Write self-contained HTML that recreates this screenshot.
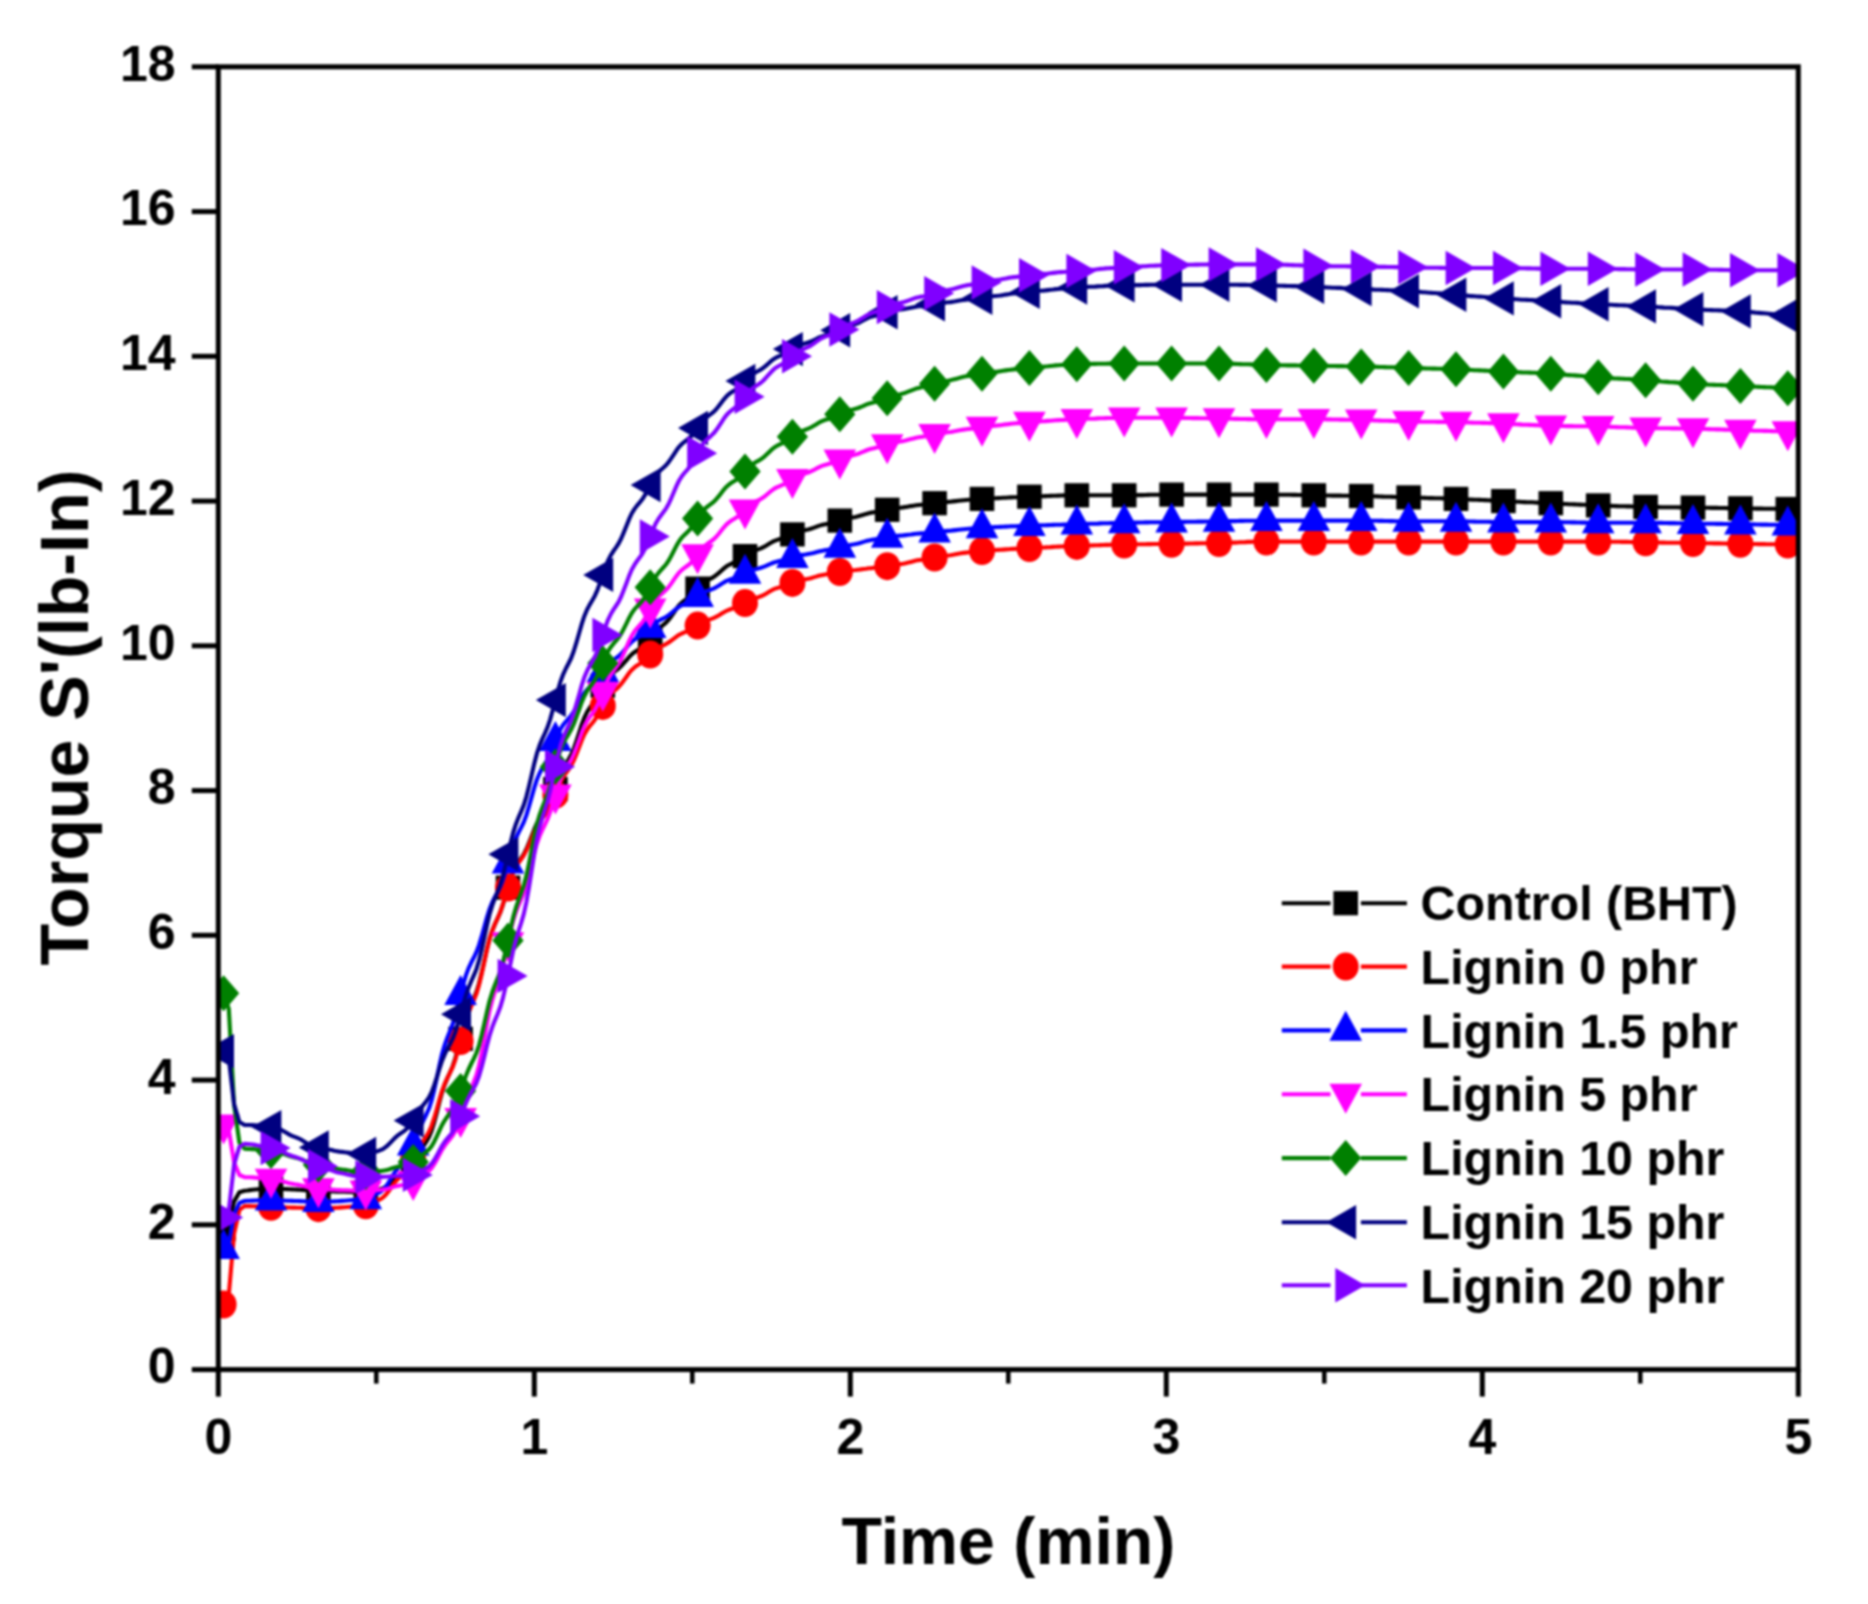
<!DOCTYPE html>
<html lang="en"><head><meta charset="utf-8"><title>Torque S' vs Time</title>
<style>
html,body{margin:0;padding:0;background:#fff;}
svg{display:block;filter:blur(0.85px);}
text{font-family:"Liberation Sans",Arial,Helvetica,sans-serif;font-weight:bold;fill:#000;}
.tk{font-size:50px;}
.lg{font-size:48.4px;}
</style></head><body>
<svg width="1868" height="1604" viewBox="0 0 1868 1604">
<rect width="1868" height="1604" fill="#fff"/>
<defs><clipPath id="plot"><rect x="218.3" y="66.8" width="1580.0" height="1302.8"/></clipPath></defs>
<g clip-path="url(#plot)">
<g><polyline points="223.6,1228.5 228.8,1224.7 234.1,1201.4 239.4,1192.3 244.6,1190.8 247.3,1190.5 249.9,1190.1 252.5,1189.7 255.2,1189.5 257.8,1189.3 260.4,1189.1 263.1,1189.0 265.7,1188.8 268.3,1188.7 271.0,1188.7 273.6,1188.7 276.2,1188.7 278.9,1188.7 281.5,1188.8 284.1,1189.0 286.8,1189.1 289.4,1189.3 292.0,1189.4 294.7,1189.5 297.3,1189.6 299.9,1189.8 302.6,1189.9 305.2,1190.1 307.8,1190.3 310.5,1190.5 313.1,1190.7 315.7,1190.8 318.4,1190.8 321.0,1190.9 323.6,1191.0 326.3,1191.1 328.9,1191.2 331.5,1191.4 334.2,1191.5 336.8,1191.6 339.4,1191.7 342.1,1191.8 344.7,1191.8 347.3,1191.9 350.0,1192.0 352.6,1192.1 355.2,1192.2 357.9,1192.2 360.5,1192.3 363.1,1192.3 365.8,1192.3 368.4,1192.1 371.0,1191.6 373.7,1190.9 376.3,1190.3 378.9,1189.6 381.6,1188.8 384.2,1187.6 386.8,1185.9 389.5,1183.7 392.1,1181.3 394.7,1178.9 397.4,1176.9 400.0,1175.2 402.6,1173.7 405.3,1171.9 407.9,1169.6 410.5,1166.7 413.2,1163.3 415.8,1159.2 418.4,1154.4 421.1,1149.8 423.7,1145.6 426.3,1141.7 429.0,1137.0 431.6,1130.7 434.2,1122.3 436.9,1112.3 439.5,1101.8 442.1,1092.3 444.8,1084.4 447.4,1078.1 450.0,1072.5 452.7,1066.2 455.3,1058.4 457.9,1049.0 460.6,1038.8 463.2,1028.6 465.8,1019.1 468.5,1011.0 471.1,1004.5 473.7,998.6 476.4,992.0 479.0,983.5 481.6,972.9 484.3,961.0 486.9,949.2 489.5,938.9 492.2,930.7 494.8,924.4 497.4,918.8 500.1,912.7 502.7,905.3 505.3,896.6 508.0,887.6 510.6,879.1 513.2,871.9 515.9,866.3 518.5,862.0 521.1,858.3 523.8,854.1 526.4,849.0 529.0,842.8 531.7,836.1 534.3,829.4 536.9,823.4 539.6,818.7 542.2,814.8 544.8,811.4 547.5,807.5 550.1,802.6 552.7,796.3 555.4,789.1 558.0,781.6 560.6,774.6 563.3,768.7 565.9,763.9 568.5,759.6 571.2,754.8 573.8,748.7 576.4,741.2 579.1,732.9 581.7,724.7 584.3,717.6 587.0,712.2 589.6,708.0 592.2,704.4 594.9,700.5 597.5,695.9 600.1,690.7 602.8,685.6 605.4,681.1 608.0,677.4 610.7,674.5 613.3,672.4 615.9,670.5 618.6,668.5 621.2,666.1 623.8,663.2 626.5,660.1 629.1,657.0 631.7,654.4 634.4,652.2 637.0,650.5 639.6,648.9 642.3,647.2 644.9,644.9 647.5,642.0 650.2,638.6 652.8,635.0 655.4,631.7 658.1,629.0 660.7,626.8 663.3,624.8 666.0,622.6 668.6,619.8 671.2,616.4 673.9,612.5 676.5,608.7 679.1,605.3 681.8,602.7 684.4,600.6 687.0,598.8 689.7,596.8 692.3,594.4 694.9,591.6 697.6,588.6 700.2,585.8 702.8,583.4 705.5,581.4 708.1,579.9 710.7,578.6 713.4,577.1 716.0,575.3 718.6,573.1 721.3,570.7 723.9,568.4 726.5,566.3 729.2,564.8 731.8,563.5 734.4,562.4 737.1,561.2 739.7,559.8 742.3,558.0 745.0,556.1 747.6,554.2 750.2,552.6 752.9,551.3 755.5,550.3 758.1,549.4 760.8,548.4 763.4,547.1 766.0,545.7 768.7,544.1 771.3,542.5 773.9,541.1 776.6,540.1 779.2,539.3 781.8,538.5 784.5,537.7 787.1,536.8 789.7,535.6 792.4,534.4 795.0,533.2 797.6,532.1 800.3,531.3 802.9,530.7 805.5,530.1 808.2,529.5 810.8,528.8 813.4,527.9 816.1,526.9 818.7,525.9 821.3,525.1 824.0,524.4 826.6,523.9 829.2,523.4 831.9,522.9 834.5,522.3 837.1,521.5 839.8,520.6 842.4,519.7 845.0,518.9 847.7,518.3 850.3,517.8 852.9,517.4 855.6,516.9 858.2,516.3 860.8,515.5 863.5,514.7 866.1,513.9 868.7,513.2 871.4,512.6 874.0,512.2 876.6,511.8 879.3,511.4 881.9,510.9 884.5,510.4 887.2,509.8 889.8,509.2 892.4,508.7 895.1,508.3 897.7,508.0 900.3,507.7 903.0,507.4 905.6,507.0 908.2,506.6 910.9,506.1 913.5,505.7 916.1,505.3 918.8,505.0 921.4,504.7 924.0,504.5 926.7,504.3 929.3,504.0 931.9,503.6 934.6,503.2 937.2,502.9 939.8,502.5 942.5,502.3 945.1,502.1 947.7,501.9 950.4,501.7 953.0,501.4 955.6,501.1 958.3,500.8 960.9,500.5 963.5,500.2 966.2,500.0 968.8,499.8 971.4,499.7 974.1,499.5 976.7,499.3 979.3,499.1 982.0,498.9 984.6,498.7 987.2,498.5 989.9,498.4 992.5,498.3 995.1,498.2 997.8,498.1 1000.4,498.0 1003.0,497.8 1005.7,497.7 1008.3,497.5 1010.9,497.4 1013.6,497.3 1016.2,497.2 1018.8,497.1 1021.5,497.1 1024.1,497.0 1026.7,496.9 1029.4,496.7 1032.0,496.6 1034.6,496.5 1037.3,496.4 1039.9,496.3 1042.5,496.2 1045.2,496.1 1047.8,496.0 1050.4,495.9 1053.1,495.8 1055.7,495.7 1058.3,495.6 1061.0,495.5 1063.6,495.4 1066.2,495.4 1068.9,495.4 1071.5,495.3 1074.1,495.3 1076.8,495.3 1079.4,495.3 1082.0,495.3 1084.7,495.3 1087.3,495.3 1089.9,495.3 1092.6,495.3 1095.2,495.3 1097.8,495.3 1100.5,495.3 1103.1,495.3 1105.7,495.3 1108.4,495.3 1111.0,495.3 1113.6,495.3 1116.3,495.3 1118.9,495.3 1121.5,495.3 1124.2,495.3 1126.8,495.3 1129.4,495.2 1132.1,495.2 1134.7,495.2 1137.3,495.1 1140.0,495.1 1142.6,495.1 1145.2,495.0 1147.9,494.9 1150.5,494.8 1153.1,494.8 1155.8,494.7 1158.4,494.7 1161.0,494.7 1163.7,494.6 1166.3,494.6 1168.9,494.6 1171.6,494.6 1174.2,494.6 1176.8,494.6 1179.5,494.6 1182.1,494.6 1184.7,494.6 1187.4,494.6 1190.0,494.6 1192.6,494.6 1195.3,494.6 1197.9,494.6 1200.5,494.6 1203.2,494.6 1205.8,494.6 1208.4,494.6 1211.1,494.6 1213.7,494.6 1216.3,494.6 1219.0,494.6 1221.6,494.6 1224.2,494.6 1226.9,494.6 1229.5,494.6 1232.1,494.6 1234.8,494.6 1237.4,494.6 1240.0,494.6 1242.7,494.6 1245.3,494.6 1247.9,494.6 1250.6,494.6 1253.2,494.6 1255.8,494.6 1258.5,494.6 1261.1,494.6 1263.7,494.6 1266.4,494.6 1269.0,494.6 1271.6,494.6 1274.3,494.6 1276.9,494.6 1279.5,494.7 1282.2,494.7 1284.8,494.7 1287.4,494.8 1290.1,494.8 1292.7,494.9 1295.3,494.9 1298.0,495.0 1300.6,495.0 1303.2,495.1 1305.9,495.2 1308.5,495.2 1311.1,495.2 1313.8,495.3 1316.4,495.3 1319.0,495.3 1321.7,495.4 1324.3,495.4 1326.9,495.5 1329.6,495.5 1332.2,495.6 1334.8,495.6 1337.5,495.6 1340.1,495.6 1342.7,495.7 1345.4,495.7 1348.0,495.8 1350.6,495.8 1353.3,495.9 1355.9,495.9 1358.5,496.0 1361.2,496.0 1363.8,496.0 1366.4,496.1 1369.1,496.2 1371.7,496.2 1374.3,496.3 1377.0,496.4 1379.6,496.5 1382.2,496.6 1384.9,496.7 1387.5,496.7 1390.1,496.8 1392.8,496.9 1395.4,497.0 1398.0,497.1 1400.7,497.2 1403.3,497.3 1405.9,497.4 1408.6,497.4 1411.2,497.5 1413.8,497.6 1416.5,497.7 1419.1,497.7 1421.7,497.8 1424.4,497.9 1427.0,498.0 1429.6,498.1 1432.3,498.1 1434.9,498.2 1437.5,498.3 1440.2,498.3 1442.8,498.4 1445.4,498.5 1448.1,498.7 1450.7,498.8 1453.3,498.8 1456.0,498.9 1458.6,499.0 1461.2,499.0 1463.9,499.2 1466.5,499.3 1469.1,499.5 1471.8,499.6 1474.4,499.7 1477.0,499.8 1479.7,499.9 1482.3,500.0 1484.9,500.1 1487.6,500.3 1490.2,500.4 1492.8,500.6 1495.5,500.7 1498.1,500.9 1500.7,501.0 1503.4,501.1 1506.0,501.2 1508.6,501.3 1511.3,501.4 1513.9,501.5 1516.5,501.7 1519.2,501.8 1521.8,502.0 1524.4,502.1 1527.1,502.2 1529.7,502.2 1532.3,502.3 1535.0,502.5 1537.6,502.6 1540.2,502.8 1542.9,502.9 1545.5,503.1 1548.1,503.2 1550.8,503.2 1553.4,503.3 1556.0,503.4 1558.7,503.6 1561.3,503.7 1563.9,503.9 1566.6,504.0 1569.2,504.2 1571.8,504.3 1574.5,504.4 1577.1,504.5 1579.7,504.6 1582.4,504.7 1585.0,504.8 1587.6,505.0 1590.3,505.1 1592.9,505.3 1595.5,505.3 1598.2,505.4 1600.8,505.5 1603.4,505.6 1606.1,505.7 1608.7,505.8 1611.3,505.9 1614.0,506.0 1616.6,506.1 1619.2,506.2 1621.9,506.2 1624.5,506.3 1627.1,506.4 1629.8,506.4 1632.4,506.5 1635.0,506.6 1637.7,506.7 1640.3,506.8 1642.9,506.8 1645.6,506.9 1648.2,506.9 1650.8,506.9 1653.5,507.0 1656.1,507.0 1658.7,507.1 1661.4,507.2 1664.0,507.2 1666.6,507.2 1669.3,507.2 1671.9,507.3 1674.5,507.3 1677.2,507.3 1679.8,507.4 1682.4,507.4 1685.1,507.5 1687.7,507.5 1690.3,507.6 1693.0,507.6 1695.6,507.6 1698.2,507.6 1700.9,507.7 1703.5,507.7 1706.1,507.8 1708.8,507.8 1711.4,507.9 1714.0,507.9 1716.7,507.9 1719.3,508.0 1721.9,508.0 1724.6,508.0 1727.2,508.1 1729.8,508.2 1732.5,508.2 1735.1,508.2 1737.7,508.3 1740.4,508.3 1743.0,508.3 1745.6,508.4 1748.3,508.4 1750.9,508.5 1753.5,508.5 1756.2,508.6 1758.8,508.6 1761.4,508.6 1764.1,508.7 1766.7,508.7 1769.3,508.7 1772.0,508.8 1774.6,508.8 1777.2,508.9 1779.9,508.9 1782.5,509.0 1785.1,509.0 1787.8,509.0" fill="none" stroke="#000000" stroke-width="4.1" stroke-linejoin="round"/>
<rect x="211.3" y="1216.4" width="24.6" height="24.2" fill="#000000"/>
<rect x="258.7" y="1176.6" width="24.6" height="24.2" fill="#000000"/>
<rect x="306.1" y="1178.7" width="24.6" height="24.2" fill="#000000"/>
<rect x="353.5" y="1180.2" width="24.6" height="24.2" fill="#000000"/>
<rect x="400.9" y="1151.2" width="24.6" height="24.2" fill="#000000"/>
<rect x="448.3" y="1026.7" width="24.6" height="24.2" fill="#000000"/>
<rect x="495.7" y="875.5" width="24.6" height="24.2" fill="#000000"/>
<rect x="543.1" y="777.0" width="24.6" height="24.2" fill="#000000"/>
<rect x="590.5" y="673.5" width="24.6" height="24.2" fill="#000000"/>
<rect x="637.9" y="626.5" width="24.6" height="24.2" fill="#000000"/>
<rect x="685.3" y="576.5" width="24.6" height="24.2" fill="#000000"/>
<rect x="732.7" y="544.0" width="24.6" height="24.2" fill="#000000"/>
<rect x="780.1" y="522.3" width="24.6" height="24.2" fill="#000000"/>
<rect x="827.5" y="508.5" width="24.6" height="24.2" fill="#000000"/>
<rect x="874.9" y="497.7" width="24.6" height="24.2" fill="#000000"/>
<rect x="922.3" y="491.1" width="24.6" height="24.2" fill="#000000"/>
<rect x="969.7" y="486.8" width="24.6" height="24.2" fill="#000000"/>
<rect x="1017.1" y="484.6" width="24.6" height="24.2" fill="#000000"/>
<rect x="1064.5" y="483.2" width="24.6" height="24.2" fill="#000000"/>
<rect x="1111.9" y="483.2" width="24.6" height="24.2" fill="#000000"/>
<rect x="1159.3" y="482.5" width="24.6" height="24.2" fill="#000000"/>
<rect x="1206.7" y="482.5" width="24.6" height="24.2" fill="#000000"/>
<rect x="1254.1" y="482.5" width="24.6" height="24.2" fill="#000000"/>
<rect x="1301.5" y="483.2" width="24.6" height="24.2" fill="#000000"/>
<rect x="1348.9" y="483.9" width="24.6" height="24.2" fill="#000000"/>
<rect x="1396.3" y="485.3" width="24.6" height="24.2" fill="#000000"/>
<rect x="1443.7" y="486.8" width="24.6" height="24.2" fill="#000000"/>
<rect x="1491.1" y="489.0" width="24.6" height="24.2" fill="#000000"/>
<rect x="1538.5" y="491.1" width="24.6" height="24.2" fill="#000000"/>
<rect x="1585.9" y="493.3" width="24.6" height="24.2" fill="#000000"/>
<rect x="1633.3" y="494.8" width="24.6" height="24.2" fill="#000000"/>
<rect x="1680.7" y="495.5" width="24.6" height="24.2" fill="#000000"/>
<rect x="1728.1" y="496.2" width="24.6" height="24.2" fill="#000000"/>
<rect x="1775.5" y="496.9" width="24.6" height="24.2" fill="#000000"/>
</g>
<g><polyline points="223.6,1304.5 228.8,1294.6 234.1,1233.6 239.4,1210.0 244.6,1206.0 247.3,1206.1 249.9,1206.1 252.5,1206.2 255.2,1206.3 257.8,1206.4 260.4,1206.5 263.1,1206.6 265.7,1206.6 268.3,1206.7 271.0,1206.8 273.6,1206.8 276.2,1206.9 278.9,1207.0 281.5,1207.1 284.1,1207.2 286.8,1207.4 289.4,1207.5 292.0,1207.6 294.7,1207.6 297.3,1207.7 299.9,1207.8 302.6,1207.9 305.2,1208.0 307.8,1208.1 310.5,1208.1 313.1,1208.2 315.7,1208.2 318.4,1208.2 321.0,1208.2 323.6,1208.1 326.3,1208.1 328.9,1208.0 331.5,1208.0 334.2,1207.9 336.8,1207.8 339.4,1207.6 342.1,1207.4 344.7,1207.2 347.3,1207.0 350.0,1206.8 352.6,1206.6 355.2,1206.4 357.9,1206.3 360.5,1206.0 363.1,1205.7 365.8,1205.3 368.4,1204.6 371.0,1203.5 373.7,1202.3 376.3,1201.1 378.9,1199.9 381.6,1198.5 384.2,1196.4 386.8,1193.6 389.5,1190.1 392.1,1186.2 394.7,1182.6 397.4,1179.5 400.0,1177.0 402.6,1174.7 405.3,1172.1 407.9,1168.7 410.5,1164.5 413.2,1159.7 415.8,1154.5 418.4,1149.1 421.1,1144.2 423.7,1140.1 426.3,1136.2 429.0,1131.7 431.6,1125.7 434.2,1118.0 436.9,1108.9 439.5,1099.4 442.1,1090.7 444.8,1083.6 447.4,1077.9 450.0,1072.7 452.7,1067.0 455.3,1059.7 457.9,1050.8 460.6,1041.0 463.2,1030.9 465.8,1021.4 468.5,1013.2 471.1,1006.6 473.7,1000.6 476.4,993.8 479.0,985.1 481.6,974.2 484.3,962.0 486.9,949.9 489.5,939.2 492.2,930.9 494.8,924.4 497.4,918.7 500.1,912.5 502.7,905.0 505.3,896.4 508.0,887.6 510.6,879.4 513.2,872.4 515.9,867.1 518.5,862.9 521.1,859.3 523.8,855.3 526.4,850.4 529.0,844.6 531.7,838.2 534.3,831.9 536.9,826.3 539.6,821.9 542.2,818.3 544.8,815.2 547.5,811.6 550.1,807.1 552.7,801.4 555.4,794.9 558.0,788.2 560.6,782.1 563.3,777.1 565.9,773.1 568.5,769.5 571.2,765.5 573.8,760.4 576.4,754.1 579.1,747.2 581.7,740.4 584.3,734.5 587.0,729.9 589.6,726.3 592.2,723.2 594.9,719.7 597.5,715.6 600.1,710.9 602.8,705.9 605.4,701.2 608.0,697.2 610.7,694.0 613.3,691.5 615.9,689.4 618.6,687.0 621.2,684.0 623.8,680.5 626.5,676.7 629.1,673.0 631.7,669.9 634.4,667.4 637.0,665.5 639.6,663.9 642.3,662.1 644.9,659.9 647.5,657.3 650.2,654.5 652.8,651.9 655.4,649.6 658.1,647.9 660.7,646.6 663.3,645.4 666.0,644.1 668.6,642.5 671.2,640.6 673.9,638.6 676.5,636.6 679.1,634.8 681.8,633.5 684.4,632.4 687.0,631.4 689.7,630.4 692.3,629.0 694.9,627.4 697.6,625.6 700.2,623.7 702.8,622.2 705.5,620.9 708.1,619.9 710.7,619.1 713.4,618.1 716.0,616.9 718.6,615.5 721.3,613.8 723.9,612.2 726.5,610.8 729.2,609.7 731.8,608.8 734.4,608.0 737.1,607.2 739.7,606.0 742.3,604.7 745.0,603.1 747.6,601.6 750.2,600.1 752.9,599.0 755.5,598.0 758.1,597.2 760.8,596.3 763.4,595.1 766.0,593.7 768.7,592.1 771.3,590.5 773.9,589.2 776.6,588.2 779.2,587.4 781.8,586.7 784.5,585.9 787.1,585.0 789.7,583.9 792.4,582.9 795.0,581.8 797.6,581.0 800.3,580.3 802.9,579.8 805.5,579.3 808.2,578.8 810.8,578.2 813.4,577.4 816.1,576.6 818.7,575.8 821.3,575.2 824.0,574.7 826.6,574.3 829.2,573.9 831.9,573.5 834.5,573.1 837.1,572.6 839.8,572.0 842.4,571.5 845.0,571.0 847.7,570.7 850.3,570.5 852.9,570.2 855.6,570.0 858.2,569.7 860.8,569.4 863.5,569.0 866.1,568.7 868.7,568.3 871.4,568.1 874.0,567.8 876.6,567.6 879.3,567.4 881.9,567.1 884.5,566.7 887.2,566.2 889.8,565.7 892.4,565.2 895.1,564.7 897.7,564.4 900.3,564.1 903.0,563.7 905.6,563.2 908.2,562.6 910.9,561.9 913.5,561.2 916.1,560.6 918.8,560.1 921.4,559.8 924.0,559.4 926.7,559.1 929.3,558.6 931.9,558.1 934.6,557.5 937.2,557.0 939.8,556.5 942.5,556.1 945.1,555.8 947.7,555.5 950.4,555.2 953.0,554.8 955.6,554.3 958.3,553.8 960.9,553.3 963.5,552.9 966.2,552.6 968.8,552.3 971.4,552.1 974.1,551.9 976.7,551.6 979.3,551.3 982.0,551.0 984.6,550.7 987.2,550.5 989.9,550.3 992.5,550.2 995.1,550.0 997.8,549.9 1000.4,549.8 1003.0,549.6 1005.7,549.4 1008.3,549.2 1010.9,549.0 1013.6,548.9 1016.2,548.8 1018.8,548.7 1021.5,548.6 1024.1,548.4 1026.7,548.3 1029.4,548.1 1032.0,547.9 1034.6,547.8 1037.3,547.6 1039.9,547.5 1042.5,547.5 1045.2,547.4 1047.8,547.2 1050.4,547.1 1053.1,546.9 1055.7,546.8 1058.3,546.6 1061.0,546.5 1063.6,546.4 1066.2,546.4 1068.9,546.3 1071.5,546.2 1074.1,546.1 1076.8,545.9 1079.4,545.8 1082.0,545.7 1084.7,545.6 1087.3,545.5 1089.9,545.5 1092.6,545.4 1095.2,545.3 1097.8,545.2 1100.5,545.1 1103.1,545.0 1105.7,544.9 1108.4,544.9 1111.0,544.8 1113.6,544.8 1116.3,544.7 1118.9,544.6 1121.5,544.6 1124.2,544.5 1126.8,544.4 1129.4,544.4 1132.1,544.3 1134.7,544.3 1137.3,544.3 1140.0,544.2 1142.6,544.2 1145.2,544.2 1147.9,544.1 1150.5,544.1 1153.1,544.0 1155.8,544.0 1158.4,544.0 1161.0,543.9 1163.7,543.9 1166.3,543.9 1168.9,543.8 1171.6,543.8 1174.2,543.7 1176.8,543.7 1179.5,543.6 1182.1,543.6 1184.7,543.6 1187.4,543.6 1190.0,543.5 1192.6,543.5 1195.3,543.4 1197.9,543.4 1200.5,543.3 1203.2,543.3 1205.8,543.3 1208.4,543.2 1211.1,543.2 1213.7,543.2 1216.3,543.1 1219.0,543.0 1221.6,543.0 1224.2,542.9 1226.9,542.8 1229.5,542.7 1232.1,542.6 1234.8,542.6 1237.4,542.5 1240.0,542.3 1242.7,542.2 1245.3,542.1 1247.9,541.9 1250.6,541.9 1253.2,541.8 1255.8,541.8 1258.5,541.7 1261.1,541.7 1263.7,541.6 1266.4,541.6 1269.0,541.6 1271.6,541.6 1274.3,541.6 1276.9,541.6 1279.5,541.6 1282.2,541.6 1284.8,541.6 1287.4,541.6 1290.1,541.6 1292.7,541.6 1295.3,541.6 1298.0,541.6 1300.6,541.6 1303.2,541.6 1305.9,541.6 1308.5,541.6 1311.1,541.6 1313.8,541.6 1316.4,541.6 1319.0,541.6 1321.7,541.6 1324.3,541.6 1326.9,541.6 1329.6,541.6 1332.2,541.6 1334.8,541.6 1337.5,541.6 1340.1,541.6 1342.7,541.6 1345.4,541.6 1348.0,541.6 1350.6,541.6 1353.3,541.6 1355.9,541.6 1358.5,541.6 1361.2,541.6 1363.8,541.6 1366.4,541.6 1369.1,541.6 1371.7,541.6 1374.3,541.6 1377.0,541.6 1379.6,541.6 1382.2,541.6 1384.9,541.6 1387.5,541.6 1390.1,541.6 1392.8,541.6 1395.4,541.6 1398.0,541.6 1400.7,541.6 1403.3,541.6 1405.9,541.6 1408.6,541.6 1411.2,541.6 1413.8,541.6 1416.5,541.6 1419.1,541.6 1421.7,541.6 1424.4,541.6 1427.0,541.6 1429.6,541.6 1432.3,541.6 1434.9,541.6 1437.5,541.6 1440.2,541.6 1442.8,541.6 1445.4,541.6 1448.1,541.6 1450.7,541.6 1453.3,541.6 1456.0,541.6 1458.6,541.6 1461.2,541.6 1463.9,541.6 1466.5,541.6 1469.1,541.6 1471.8,541.6 1474.4,541.6 1477.0,541.6 1479.7,541.6 1482.3,541.6 1484.9,541.6 1487.6,541.6 1490.2,541.6 1492.8,541.6 1495.5,541.6 1498.1,541.6 1500.7,541.6 1503.4,541.6 1506.0,541.6 1508.6,541.6 1511.3,541.6 1513.9,541.6 1516.5,541.6 1519.2,541.6 1521.8,541.6 1524.4,541.6 1527.1,541.6 1529.7,541.6 1532.3,541.6 1535.0,541.6 1537.6,541.6 1540.2,541.6 1542.9,541.6 1545.5,541.6 1548.1,541.6 1550.8,541.6 1553.4,541.6 1556.0,541.6 1558.7,541.6 1561.3,541.6 1563.9,541.6 1566.6,541.6 1569.2,541.6 1571.8,541.6 1574.5,541.6 1577.1,541.6 1579.7,541.6 1582.4,541.6 1585.0,541.6 1587.6,541.6 1590.3,541.6 1592.9,541.6 1595.5,541.6 1598.2,541.6 1600.8,541.6 1603.4,541.6 1606.1,541.6 1608.7,541.7 1611.3,541.7 1614.0,541.7 1616.6,541.8 1619.2,541.8 1621.9,541.9 1624.5,541.9 1627.1,541.9 1629.8,542.0 1632.4,542.1 1635.0,542.1 1637.7,542.2 1640.3,542.3 1642.9,542.3 1645.6,542.3 1648.2,542.3 1650.8,542.4 1653.5,542.4 1656.1,542.5 1658.7,542.5 1661.4,542.6 1664.0,542.6 1666.6,542.7 1669.3,542.7 1671.9,542.7 1674.5,542.7 1677.2,542.8 1679.8,542.8 1682.4,542.9 1685.1,542.9 1687.7,543.0 1690.3,543.0 1693.0,543.0 1695.6,543.1 1698.2,543.1 1700.9,543.1 1703.5,543.2 1706.1,543.3 1708.8,543.3 1711.4,543.3 1714.0,543.4 1716.7,543.4 1719.3,543.4 1721.9,543.5 1724.6,543.5 1727.2,543.6 1729.8,543.6 1732.5,543.7 1735.1,543.7 1737.7,543.7 1740.4,543.8 1743.0,543.8 1745.6,543.8 1748.3,543.9 1750.9,543.9 1753.5,544.0 1756.2,544.0 1758.8,544.1 1761.4,544.1 1764.1,544.1 1766.7,544.2 1769.3,544.2 1772.0,544.2 1774.6,544.3 1777.2,544.3 1779.9,544.4 1782.5,544.4 1785.1,544.5 1787.8,544.5" fill="none" stroke="#ff0000" stroke-width="4.1" stroke-linejoin="round"/>
<ellipse cx="223.6" cy="1304.5" rx="13" ry="14" fill="#ff0000"/>
<ellipse cx="271.0" cy="1206.8" rx="13" ry="14" fill="#ff0000"/>
<ellipse cx="318.4" cy="1208.2" rx="13" ry="14" fill="#ff0000"/>
<ellipse cx="365.8" cy="1205.3" rx="13" ry="14" fill="#ff0000"/>
<ellipse cx="413.2" cy="1159.7" rx="13" ry="14" fill="#ff0000"/>
<ellipse cx="460.6" cy="1041.0" rx="13" ry="14" fill="#ff0000"/>
<ellipse cx="508.0" cy="887.6" rx="13" ry="14" fill="#ff0000"/>
<ellipse cx="555.4" cy="794.9" rx="13" ry="14" fill="#ff0000"/>
<ellipse cx="602.8" cy="705.9" rx="13" ry="14" fill="#ff0000"/>
<ellipse cx="650.2" cy="654.5" rx="13" ry="14" fill="#ff0000"/>
<ellipse cx="697.6" cy="625.6" rx="13" ry="14" fill="#ff0000"/>
<ellipse cx="745.0" cy="603.1" rx="13" ry="14" fill="#ff0000"/>
<ellipse cx="792.4" cy="582.9" rx="13" ry="14" fill="#ff0000"/>
<ellipse cx="839.8" cy="572.0" rx="13" ry="14" fill="#ff0000"/>
<ellipse cx="887.2" cy="566.2" rx="13" ry="14" fill="#ff0000"/>
<ellipse cx="934.6" cy="557.5" rx="13" ry="14" fill="#ff0000"/>
<ellipse cx="982.0" cy="551.0" rx="13" ry="14" fill="#ff0000"/>
<ellipse cx="1029.4" cy="548.1" rx="13" ry="14" fill="#ff0000"/>
<ellipse cx="1076.8" cy="545.9" rx="13" ry="14" fill="#ff0000"/>
<ellipse cx="1124.2" cy="544.5" rx="13" ry="14" fill="#ff0000"/>
<ellipse cx="1171.6" cy="543.8" rx="13" ry="14" fill="#ff0000"/>
<ellipse cx="1219.0" cy="543.0" rx="13" ry="14" fill="#ff0000"/>
<ellipse cx="1266.4" cy="541.6" rx="13" ry="14" fill="#ff0000"/>
<ellipse cx="1313.8" cy="541.6" rx="13" ry="14" fill="#ff0000"/>
<ellipse cx="1361.2" cy="541.6" rx="13" ry="14" fill="#ff0000"/>
<ellipse cx="1408.6" cy="541.6" rx="13" ry="14" fill="#ff0000"/>
<ellipse cx="1456.0" cy="541.6" rx="13" ry="14" fill="#ff0000"/>
<ellipse cx="1503.4" cy="541.6" rx="13" ry="14" fill="#ff0000"/>
<ellipse cx="1550.8" cy="541.6" rx="13" ry="14" fill="#ff0000"/>
<ellipse cx="1598.2" cy="541.6" rx="13" ry="14" fill="#ff0000"/>
<ellipse cx="1645.6" cy="542.3" rx="13" ry="14" fill="#ff0000"/>
<ellipse cx="1693.0" cy="543.0" rx="13" ry="14" fill="#ff0000"/>
<ellipse cx="1740.4" cy="543.8" rx="13" ry="14" fill="#ff0000"/>
<ellipse cx="1787.8" cy="544.5" rx="13" ry="14" fill="#ff0000"/>
</g>
<g><polyline points="223.6,1248.7 228.8,1244.0 234.1,1214.3 239.4,1202.9 244.6,1201.0 247.3,1200.8 249.9,1200.7 252.5,1200.6 255.2,1200.5 257.8,1200.4 260.4,1200.4 263.1,1200.3 265.7,1200.3 268.3,1200.3 271.0,1200.2 273.6,1200.2 276.2,1200.3 278.9,1200.3 281.5,1200.4 284.1,1200.5 286.8,1200.7 289.4,1200.8 292.0,1200.9 294.7,1201.0 297.3,1201.0 299.9,1201.1 302.6,1201.3 305.2,1201.4 307.8,1201.5 310.5,1201.6 313.1,1201.7 315.7,1201.7 318.4,1201.7 321.0,1201.7 323.6,1201.6 326.3,1201.6 328.9,1201.5 331.5,1201.5 334.2,1201.4 336.8,1201.3 339.4,1201.1 342.1,1200.9 344.7,1200.7 347.3,1200.5 350.0,1200.3 352.6,1200.1 355.2,1199.9 357.9,1199.7 360.5,1199.5 363.1,1199.2 365.8,1198.8 368.4,1198.0 371.0,1196.8 373.7,1195.4 376.3,1194.0 378.9,1192.7 381.6,1191.0 384.2,1188.6 386.8,1185.3 389.5,1181.2 392.1,1176.7 394.7,1172.4 397.4,1168.8 400.0,1165.8 402.6,1163.1 405.3,1160.0 407.9,1156.0 410.5,1151.0 413.2,1145.2 415.8,1138.7 418.4,1131.8 421.1,1125.3 423.7,1119.8 426.3,1114.5 429.0,1108.5 431.6,1100.4 434.2,1089.9 436.9,1077.6 439.5,1065.1 442.1,1053.8 444.8,1044.6 447.4,1037.5 450.0,1031.1 452.7,1024.1 455.3,1015.5 457.9,1005.3 460.6,994.7 463.2,984.5 465.8,975.6 468.5,968.4 471.1,962.8 473.7,957.8 476.4,952.2 479.0,945.2 481.6,936.7 484.3,927.1 486.9,917.6 489.5,909.3 492.2,902.5 494.8,897.2 497.4,892.4 500.1,887.1 502.7,880.4 505.3,872.2 508.0,863.0 510.6,853.6 513.2,845.1 515.9,838.2 518.5,832.6 521.1,827.6 523.8,822.1 526.4,815.1 529.0,806.5 531.7,796.9 534.3,787.6 536.9,779.5 539.6,773.2 542.2,768.3 544.8,764.1 547.5,759.4 550.1,753.8 552.7,747.3 555.4,740.6 558.0,734.4 560.6,729.0 563.3,724.7 565.9,721.5 568.5,718.6 571.2,715.5 573.8,711.6 576.4,707.0 579.1,702.0 581.7,697.1 584.3,693.0 587.0,689.7 589.6,687.2 592.2,684.9 594.9,682.5 597.5,679.5 600.1,675.8 602.8,671.9 605.4,668.0 608.0,664.7 610.7,662.1 613.3,660.0 615.9,658.2 618.6,656.2 621.2,653.8 623.8,650.9 626.5,647.6 629.1,644.5 631.7,641.8 634.4,639.7 637.0,638.0 639.6,636.5 642.3,634.9 644.9,632.9 647.5,630.4 650.2,627.7 652.8,625.1 655.4,622.8 658.1,621.0 660.7,619.6 663.3,618.4 666.0,617.0 668.6,615.3 671.2,613.2 673.9,610.9 676.5,608.7 679.1,606.8 681.8,605.2 684.4,604.0 687.0,603.0 689.7,601.8 692.3,600.3 694.9,598.6 697.6,596.6 700.2,594.7 702.8,593.0 705.5,591.7 708.1,590.6 710.7,589.7 713.4,588.6 716.0,587.3 718.6,585.8 721.3,584.1 723.9,582.4 726.5,580.9 729.2,579.8 731.8,578.9 734.4,578.1 737.1,577.2 739.7,576.1 742.3,574.8 745.0,573.4 747.6,572.1 750.2,570.9 752.9,570.0 755.5,569.2 758.1,568.6 760.8,567.8 763.4,566.9 766.0,565.9 768.7,564.7 771.3,563.5 773.9,562.5 776.6,561.7 779.2,561.1 781.8,560.6 784.5,560.0 787.1,559.3 789.7,558.4 792.4,557.5 795.0,556.6 797.6,555.9 800.3,555.3 802.9,554.9 805.5,554.5 808.2,554.0 810.8,553.5 813.4,552.9 816.1,552.2 818.7,551.5 821.3,550.9 824.0,550.4 826.6,550.0 829.2,549.6 831.9,549.2 834.5,548.7 837.1,548.1 839.8,547.4 842.4,546.6 845.0,545.9 847.7,545.4 850.3,544.9 852.9,544.5 855.6,544.0 858.2,543.4 860.8,542.7 863.5,541.9 866.1,541.1 868.7,540.4 871.4,539.9 874.0,539.5 876.6,539.1 879.3,538.8 881.9,538.3 884.5,537.8 887.2,537.3 889.8,536.8 892.4,536.4 895.1,536.1 897.7,535.8 900.3,535.6 903.0,535.4 905.6,535.1 908.2,534.8 910.9,534.5 913.5,534.1 916.1,533.8 918.8,533.6 921.4,533.4 924.0,533.2 926.7,533.1 929.3,532.8 931.9,532.5 934.6,532.2 937.2,531.8 939.8,531.5 942.5,531.3 945.1,531.1 947.7,530.9 950.4,530.7 953.0,530.4 955.6,530.1 958.3,529.8 960.9,529.5 963.5,529.2 966.2,529.0 968.8,528.8 971.4,528.6 974.1,528.5 976.7,528.3 979.3,528.1 982.0,527.8 984.6,527.6 987.2,527.5 989.9,527.3 992.5,527.2 995.1,527.1 997.8,527.0 1000.4,526.9 1003.0,526.8 1005.7,526.6 1008.3,526.5 1010.9,526.3 1013.6,526.2 1016.2,526.2 1018.8,526.1 1021.5,526.0 1024.1,525.9 1026.7,525.8 1029.4,525.7 1032.0,525.6 1034.6,525.4 1037.3,525.4 1039.9,525.3 1042.5,525.2 1045.2,525.2 1047.8,525.1 1050.4,525.0 1053.1,524.9 1055.7,524.8 1058.3,524.7 1061.0,524.7 1063.6,524.6 1066.2,524.6 1068.9,524.5 1071.5,524.4 1074.1,524.3 1076.8,524.2 1079.4,524.1 1082.0,524.0 1084.7,523.9 1087.3,523.9 1089.9,523.8 1092.6,523.7 1095.2,523.7 1097.8,523.6 1100.5,523.4 1103.1,523.3 1105.7,523.2 1108.4,523.2 1111.0,523.1 1113.6,523.0 1116.3,523.0 1118.9,522.9 1121.5,522.9 1124.2,522.8 1126.8,522.7 1129.4,522.7 1132.1,522.6 1134.7,522.6 1137.3,522.6 1140.0,522.5 1142.6,522.5 1145.2,522.4 1147.9,522.4 1150.5,522.3 1153.1,522.3 1155.8,522.3 1158.4,522.2 1161.0,522.2 1163.7,522.2 1166.3,522.2 1168.9,522.1 1171.6,522.1 1174.2,522.0 1176.8,522.0 1179.5,521.9 1182.1,521.9 1184.7,521.9 1187.4,521.8 1190.0,521.8 1192.6,521.7 1195.3,521.7 1197.9,521.6 1200.5,521.6 1203.2,521.6 1205.8,521.5 1208.4,521.5 1211.1,521.5 1213.7,521.4 1216.3,521.4 1219.0,521.3 1221.6,521.3 1224.2,521.2 1226.9,521.2 1229.5,521.1 1232.1,521.1 1234.8,521.1 1237.4,521.0 1240.0,520.9 1242.7,520.9 1245.3,520.8 1247.9,520.8 1250.6,520.7 1253.2,520.7 1255.8,520.7 1258.5,520.7 1261.1,520.6 1263.7,520.6 1266.4,520.6 1269.0,520.6 1271.6,520.6 1274.3,520.6 1276.9,520.6 1279.5,520.6 1282.2,520.6 1284.8,520.6 1287.4,520.6 1290.1,520.6 1292.7,520.6 1295.3,520.6 1298.0,520.6 1300.6,520.6 1303.2,520.6 1305.9,520.6 1308.5,520.6 1311.1,520.6 1313.8,520.6 1316.4,520.6 1319.0,520.6 1321.7,520.6 1324.3,520.6 1326.9,520.6 1329.6,520.6 1332.2,520.6 1334.8,520.6 1337.5,520.6 1340.1,520.6 1342.7,520.6 1345.4,520.6 1348.0,520.6 1350.6,520.6 1353.3,520.6 1355.9,520.6 1358.5,520.6 1361.2,520.6 1363.8,520.6 1366.4,520.6 1369.1,520.6 1371.7,520.7 1374.3,520.8 1377.0,520.8 1379.6,520.9 1382.2,520.9 1384.9,521.0 1387.5,521.0 1390.1,521.1 1392.8,521.1 1395.4,521.2 1398.0,521.2 1400.7,521.3 1403.3,521.3 1405.9,521.3 1408.6,521.3 1411.2,521.3 1413.8,521.3 1416.5,521.3 1419.1,521.3 1421.7,521.3 1424.4,521.3 1427.0,521.3 1429.6,521.3 1432.3,521.3 1434.9,521.3 1437.5,521.3 1440.2,521.3 1442.8,521.3 1445.4,521.3 1448.1,521.3 1450.7,521.3 1453.3,521.3 1456.0,521.3 1458.6,521.3 1461.2,521.3 1463.9,521.4 1466.5,521.4 1469.1,521.5 1471.8,521.5 1474.4,521.6 1477.0,521.7 1479.7,521.7 1482.3,521.7 1484.9,521.8 1487.6,521.8 1490.2,521.9 1492.8,522.0 1495.5,522.0 1498.1,522.0 1500.7,522.1 1503.4,522.1 1506.0,522.1 1508.6,522.1 1511.3,522.1 1513.9,522.1 1516.5,522.1 1519.2,522.1 1521.8,522.1 1524.4,522.1 1527.1,522.1 1529.7,522.1 1532.3,522.1 1535.0,522.1 1537.6,522.1 1540.2,522.1 1542.9,522.1 1545.5,522.1 1548.1,522.1 1550.8,522.1 1553.4,522.1 1556.0,522.1 1558.7,522.1 1561.3,522.1 1563.9,522.2 1566.6,522.3 1569.2,522.3 1571.8,522.4 1574.5,522.4 1577.1,522.5 1579.7,522.5 1582.4,522.6 1585.0,522.6 1587.6,522.7 1590.3,522.7 1592.9,522.8 1595.5,522.8 1598.2,522.8 1600.8,522.8 1603.4,522.8 1606.1,522.8 1608.7,522.8 1611.3,522.8 1614.0,522.8 1616.6,522.8 1619.2,522.8 1621.9,522.8 1624.5,522.8 1627.1,522.8 1629.8,522.8 1632.4,522.8 1635.0,522.8 1637.7,522.8 1640.3,522.8 1642.9,522.8 1645.6,522.8 1648.2,522.8 1650.8,522.8 1653.5,522.8 1656.1,522.8 1658.7,522.9 1661.4,522.9 1664.0,523.0 1666.6,523.0 1669.3,523.1 1671.9,523.1 1674.5,523.1 1677.2,523.2 1679.8,523.3 1682.4,523.3 1685.1,523.4 1687.7,523.4 1690.3,523.5 1693.0,523.5 1695.6,523.5 1698.2,523.6 1700.9,523.6 1703.5,523.7 1706.1,523.7 1708.8,523.8 1711.4,523.8 1714.0,523.8 1716.7,523.9 1719.3,523.9 1721.9,523.9 1724.6,524.0 1727.2,524.0 1729.8,524.1 1732.5,524.1 1735.1,524.2 1737.7,524.2 1740.4,524.2 1743.0,524.3 1745.6,524.3 1748.3,524.3 1750.9,524.4 1753.5,524.4 1756.2,524.5 1758.8,524.5 1761.4,524.6 1764.1,524.6 1766.7,524.6 1769.3,524.7 1772.0,524.7 1774.6,524.7 1777.2,524.8 1779.9,524.8 1782.5,524.9 1785.1,524.9 1787.8,525.0" fill="none" stroke="#0000ff" stroke-width="4.1" stroke-linejoin="round"/>
<polygon points="223.6,1229.1 207.3,1259.1 239.9,1259.1" fill="#0000ff"/>
<polygon points="271.0,1180.6 254.7,1210.6 287.3,1210.6" fill="#0000ff"/>
<polygon points="318.4,1182.1 302.1,1212.1 334.7,1212.1" fill="#0000ff"/>
<polygon points="365.8,1179.2 349.5,1209.2 382.1,1209.2" fill="#0000ff"/>
<polygon points="413.2,1125.6 396.9,1155.6 429.5,1155.6" fill="#0000ff"/>
<polygon points="460.6,975.1 444.3,1005.1 476.9,1005.1" fill="#0000ff"/>
<polygon points="508.0,843.4 491.7,873.4 524.3,873.4" fill="#0000ff"/>
<polygon points="555.4,721.0 539.1,751.0 571.7,751.0" fill="#0000ff"/>
<polygon points="602.8,652.3 586.5,682.3 619.1,682.3" fill="#0000ff"/>
<polygon points="650.2,608.1 633.9,638.1 666.5,638.1" fill="#0000ff"/>
<polygon points="697.6,577.0 681.3,607.0 713.9,607.0" fill="#0000ff"/>
<polygon points="745.0,553.8 728.7,583.8 761.3,583.8" fill="#0000ff"/>
<polygon points="792.4,537.9 776.1,567.9 808.7,567.9" fill="#0000ff"/>
<polygon points="839.8,527.8 823.5,557.8 856.1,557.8" fill="#0000ff"/>
<polygon points="887.2,517.7 870.9,547.7 903.5,547.7" fill="#0000ff"/>
<polygon points="934.6,512.6 918.3,542.6 950.9,542.6" fill="#0000ff"/>
<polygon points="982.0,508.2 965.7,538.2 998.3,538.2" fill="#0000ff"/>
<polygon points="1029.4,506.1 1013.1,536.1 1045.7,536.1" fill="#0000ff"/>
<polygon points="1076.8,504.6 1060.5,534.6 1093.1,534.6" fill="#0000ff"/>
<polygon points="1124.2,503.2 1107.9,533.2 1140.5,533.2" fill="#0000ff"/>
<polygon points="1171.6,502.5 1155.3,532.5 1187.9,532.5" fill="#0000ff"/>
<polygon points="1219.0,501.7 1202.7,531.7 1235.3,531.7" fill="#0000ff"/>
<polygon points="1266.4,501.0 1250.1,531.0 1282.7,531.0" fill="#0000ff"/>
<polygon points="1313.8,501.0 1297.5,531.0 1330.1,531.0" fill="#0000ff"/>
<polygon points="1361.2,501.0 1344.9,531.0 1377.5,531.0" fill="#0000ff"/>
<polygon points="1408.6,501.7 1392.3,531.7 1424.9,531.7" fill="#0000ff"/>
<polygon points="1456.0,501.7 1439.7,531.7 1472.3,531.7" fill="#0000ff"/>
<polygon points="1503.4,502.5 1487.1,532.5 1519.7,532.5" fill="#0000ff"/>
<polygon points="1550.8,502.5 1534.5,532.5 1567.1,532.5" fill="#0000ff"/>
<polygon points="1598.2,503.2 1581.9,533.2 1614.5,533.2" fill="#0000ff"/>
<polygon points="1645.6,503.2 1629.3,533.2 1661.9,533.2" fill="#0000ff"/>
<polygon points="1693.0,503.9 1676.7,533.9 1709.3,533.9" fill="#0000ff"/>
<polygon points="1740.4,504.6 1724.1,534.6 1756.7,534.6" fill="#0000ff"/>
<polygon points="1787.8,505.4 1771.5,535.4 1804.1,535.4" fill="#0000ff"/>
</g>
<g><polyline points="223.6,1125.0 228.8,1130.2 234.1,1162.5 239.4,1175.0 244.6,1177.1 247.3,1177.2 249.9,1177.3 252.5,1177.4 255.2,1177.6 257.8,1177.9 260.4,1178.2 263.1,1178.5 265.7,1178.8 268.3,1179.0 271.0,1179.2 273.6,1179.5 276.2,1179.8 278.9,1180.3 281.5,1180.9 284.1,1181.7 286.8,1182.5 289.4,1183.2 292.0,1183.7 294.7,1184.2 297.3,1184.6 299.9,1185.2 302.6,1185.8 305.2,1186.6 307.8,1187.3 310.5,1187.9 313.1,1188.3 315.7,1188.5 318.4,1188.7 321.0,1188.8 323.6,1189.0 326.3,1189.1 328.9,1189.4 331.5,1189.6 334.2,1189.8 336.8,1190.0 339.4,1190.1 342.1,1190.2 344.7,1190.3 347.3,1190.4 350.0,1190.5 352.6,1190.6 355.2,1190.7 357.9,1190.8 360.5,1190.8 363.1,1190.8 365.8,1190.8 368.4,1190.8 371.0,1190.6 373.7,1190.4 376.3,1190.2 378.9,1190.0 381.6,1189.8 384.2,1189.4 386.8,1188.9 389.5,1188.2 392.1,1187.4 394.7,1186.6 397.4,1186.0 400.0,1185.4 402.6,1184.9 405.3,1184.3 407.9,1183.6 410.5,1182.6 413.2,1181.4 415.8,1179.9 418.4,1178.1 421.1,1176.2 423.7,1174.4 426.3,1172.8 429.0,1170.8 431.6,1168.0 434.2,1164.2 436.9,1159.5 439.5,1154.4 442.1,1149.6 444.8,1145.5 447.4,1142.1 450.0,1139.0 452.7,1135.5 455.3,1130.9 457.9,1125.1 460.6,1118.4 463.2,1110.8 465.8,1102.6 468.5,1095.1 471.1,1088.5 473.7,1082.3 476.4,1075.2 479.0,1065.7 481.6,1053.4 484.3,1039.0 486.9,1024.3 489.5,1011.1 492.2,1000.4 494.8,992.0 497.4,984.6 500.1,976.4 502.7,966.5 505.3,954.8 508.0,942.6 510.6,930.9 513.2,920.5 515.9,912.2 518.5,905.6 521.1,899.7 523.8,893.1 526.4,884.9 529.0,874.9 531.7,863.8 534.3,853.0 536.9,843.5 539.6,836.0 542.2,830.1 544.8,824.9 547.5,819.2 550.1,812.3 552.7,803.9 555.4,794.9 558.0,786.2 560.6,778.7 563.3,772.8 565.9,768.2 568.5,764.1 571.2,759.6 573.8,754.0 576.4,747.3 579.1,739.9 581.7,732.6 584.3,726.3 587.0,721.2 589.6,717.2 592.2,713.7 594.9,709.8 597.5,704.9 600.1,698.8 602.8,692.1 605.4,685.5 608.0,679.5 610.7,674.7 613.3,671.0 615.9,667.6 618.6,663.9 621.2,659.2 623.8,653.5 626.5,647.2 629.1,641.1 631.7,635.8 634.4,631.6 637.0,628.3 639.6,625.4 642.3,622.3 644.9,618.4 647.5,613.8 650.2,608.9 652.8,604.2 655.4,600.2 658.1,597.0 660.7,594.6 663.3,592.4 666.0,590.0 668.6,587.1 671.2,583.6 673.9,579.7 676.5,575.9 679.1,572.6 681.8,569.9 684.4,567.9 687.0,566.0 689.7,564.0 692.3,561.4 694.9,558.2 697.6,554.6 700.2,551.1 702.8,547.9 705.5,545.3 708.1,543.3 710.7,541.5 713.4,539.5 716.0,537.0 718.6,534.0 721.3,530.6 723.9,527.3 726.5,524.4 729.2,522.1 731.8,520.3 734.4,518.8 737.1,517.1 739.7,515.0 742.3,512.5 745.0,509.8 747.6,507.1 750.2,504.9 752.9,503.1 755.5,501.6 758.1,500.4 760.8,499.0 763.4,497.3 766.0,495.3 768.7,493.0 771.3,490.8 773.9,488.9 776.6,487.4 779.2,486.3 781.8,485.2 784.5,484.1 787.1,482.8 789.7,481.1 792.4,479.4 795.0,477.7 797.6,476.2 800.3,475.0 802.9,474.2 805.5,473.4 808.2,472.5 810.8,471.4 813.4,470.2 816.1,468.7 818.7,467.4 821.3,466.2 824.0,465.2 826.6,464.5 829.2,463.8 831.9,463.1 834.5,462.2 837.1,461.1 839.8,459.8 842.4,458.6 845.0,457.5 847.7,456.6 850.3,455.9 852.9,455.3 855.6,454.6 858.2,453.8 860.8,452.7 863.5,451.6 866.1,450.5 868.7,449.5 871.4,448.8 874.0,448.2 876.6,447.6 879.3,447.1 881.9,446.4 884.5,445.5 887.2,444.6 889.8,443.7 892.4,443.0 895.1,442.4 897.7,441.9 900.3,441.5 903.0,441.1 905.6,440.5 908.2,439.8 910.9,439.1 913.5,438.4 916.1,437.7 918.8,437.2 921.4,436.9 924.0,436.5 926.7,436.1 929.3,435.7 931.9,435.1 934.6,434.5 937.2,433.9 939.8,433.3 942.5,432.9 945.1,432.6 947.7,432.3 950.4,432.0 953.0,431.6 955.6,431.1 958.3,430.5 960.9,430.0 963.5,429.6 966.2,429.2 968.8,428.9 971.4,428.7 974.1,428.4 976.7,428.1 979.3,427.7 982.0,427.2 984.6,426.8 987.2,426.4 989.9,426.1 992.5,425.9 995.1,425.7 997.8,425.4 1000.4,425.2 1003.0,424.8 1005.7,424.4 1008.3,424.1 1010.9,423.7 1013.6,423.5 1016.2,423.3 1018.8,423.1 1021.5,422.9 1024.1,422.7 1026.7,422.5 1029.4,422.2 1032.0,421.9 1034.6,421.7 1037.3,421.5 1039.9,421.4 1042.5,421.2 1045.2,421.1 1047.8,420.9 1050.4,420.7 1053.1,420.5 1055.7,420.3 1058.3,420.1 1061.0,420.0 1063.6,419.9 1066.2,419.8 1068.9,419.7 1071.5,419.6 1074.1,419.4 1076.8,419.3 1079.4,419.1 1082.0,419.0 1084.7,418.9 1087.3,418.8 1089.9,418.7 1092.6,418.7 1095.2,418.6 1097.8,418.4 1100.5,418.3 1103.1,418.2 1105.7,418.1 1108.4,418.0 1111.0,418.0 1113.6,417.9 1116.3,417.9 1118.9,417.9 1121.5,417.8 1124.2,417.8 1126.8,417.8 1129.4,417.8 1132.1,417.8 1134.7,417.8 1137.3,417.8 1140.0,417.8 1142.6,417.8 1145.2,417.8 1147.9,417.8 1150.5,417.8 1153.1,417.8 1155.8,417.8 1158.4,417.8 1161.0,417.8 1163.7,417.8 1166.3,417.8 1168.9,417.8 1171.6,417.8 1174.2,417.8 1176.8,417.8 1179.5,417.9 1182.1,417.9 1184.7,417.9 1187.4,418.0 1190.0,418.0 1192.6,418.1 1195.3,418.1 1197.9,418.1 1200.5,418.2 1203.2,418.2 1205.8,418.3 1208.4,418.4 1211.1,418.4 1213.7,418.5 1216.3,418.5 1219.0,418.6 1221.6,418.6 1224.2,418.6 1226.9,418.7 1229.5,418.7 1232.1,418.8 1234.8,418.9 1237.4,418.9 1240.0,419.0 1242.7,419.0 1245.3,419.0 1247.9,419.1 1250.6,419.1 1253.2,419.2 1255.8,419.2 1258.5,419.3 1261.1,419.3 1263.7,419.3 1266.4,419.3 1269.0,419.3 1271.6,419.3 1274.3,419.3 1276.9,419.3 1279.5,419.3 1282.2,419.3 1284.8,419.3 1287.4,419.3 1290.1,419.3 1292.7,419.3 1295.3,419.3 1298.0,419.3 1300.6,419.3 1303.2,419.3 1305.9,419.3 1308.5,419.3 1311.1,419.3 1313.8,419.3 1316.4,419.3 1319.0,419.3 1321.7,419.3 1324.3,419.3 1326.9,419.4 1329.6,419.4 1332.2,419.5 1334.8,419.5 1337.5,419.5 1340.1,419.6 1342.7,419.6 1345.4,419.7 1348.0,419.7 1350.6,419.8 1353.3,419.9 1355.9,419.9 1358.5,420.0 1361.2,420.0 1363.8,420.0 1366.4,420.1 1369.1,420.2 1371.7,420.3 1374.3,420.4 1377.0,420.5 1379.6,420.6 1382.2,420.7 1384.9,420.7 1387.5,420.8 1390.1,420.9 1392.8,421.0 1395.4,421.1 1398.0,421.2 1400.7,421.3 1403.3,421.4 1405.9,421.4 1408.6,421.5 1411.2,421.5 1413.8,421.5 1416.5,421.6 1419.1,421.6 1421.7,421.7 1424.4,421.7 1427.0,421.8 1429.6,421.8 1432.3,421.8 1434.9,421.8 1437.5,421.9 1440.2,421.9 1442.8,421.9 1445.4,422.0 1448.1,422.0 1450.7,422.1 1453.3,422.1 1456.0,422.2 1458.6,422.2 1461.2,422.3 1463.9,422.3 1466.5,422.4 1469.1,422.5 1471.8,422.6 1474.4,422.7 1477.0,422.7 1479.7,422.8 1482.3,422.9 1484.9,422.9 1487.6,423.0 1490.2,423.1 1492.8,423.3 1495.5,423.4 1498.1,423.5 1500.7,423.6 1503.4,423.6 1506.0,423.7 1508.6,423.8 1511.3,423.9 1513.9,424.1 1516.5,424.2 1519.2,424.4 1521.8,424.6 1524.4,424.7 1527.1,424.8 1529.7,424.9 1532.3,425.0 1535.0,425.1 1537.6,425.3 1540.2,425.5 1542.9,425.6 1545.5,425.7 1548.1,425.7 1550.8,425.8 1553.4,425.8 1556.0,425.9 1558.7,425.9 1561.3,426.0 1563.9,426.0 1566.6,426.1 1569.2,426.1 1571.8,426.1 1574.5,426.2 1577.1,426.2 1579.7,426.2 1582.4,426.3 1585.0,426.3 1587.6,426.3 1590.3,426.4 1592.9,426.4 1595.5,426.5 1598.2,426.5 1600.8,426.6 1603.4,426.6 1606.1,426.7 1608.7,426.8 1611.3,426.9 1614.0,427.0 1616.6,427.1 1619.2,427.2 1621.9,427.2 1624.5,427.3 1627.1,427.4 1629.8,427.5 1632.4,427.6 1635.0,427.7 1637.7,427.8 1640.3,427.9 1642.9,427.9 1645.6,428.0 1648.2,428.0 1650.8,428.0 1653.5,428.1 1656.1,428.1 1658.7,428.2 1661.4,428.2 1664.0,428.3 1666.6,428.3 1669.3,428.3 1671.9,428.4 1674.5,428.4 1677.2,428.4 1679.8,428.5 1682.4,428.5 1685.1,428.6 1687.7,428.6 1690.3,428.7 1693.0,428.7 1695.6,428.7 1698.2,428.8 1700.9,428.8 1703.5,428.9 1706.1,429.0 1708.8,429.1 1711.4,429.2 1714.0,429.3 1716.7,429.4 1719.3,429.4 1721.9,429.5 1724.6,429.6 1727.2,429.7 1729.8,429.8 1732.5,429.9 1735.1,430.0 1737.7,430.1 1740.4,430.1 1743.0,430.2 1745.6,430.3 1748.3,430.3 1750.9,430.4 1753.5,430.6 1756.2,430.7 1758.8,430.7 1761.4,430.8 1764.1,430.9 1766.7,430.9 1769.3,431.0 1772.0,431.1 1774.6,431.2 1777.2,431.3 1779.9,431.4 1782.5,431.5 1785.1,431.5 1787.8,431.6" fill="none" stroke="#ff00ff" stroke-width="4.1" stroke-linejoin="round"/>
<polygon points="223.6,1144.6 207.3,1114.6 239.9,1114.6" fill="#ff00ff"/>
<polygon points="271.0,1198.8 254.7,1168.8 287.3,1168.8" fill="#ff00ff"/>
<polygon points="318.4,1208.3 302.1,1178.3 334.7,1178.3" fill="#ff00ff"/>
<polygon points="365.8,1210.4 349.5,1180.4 382.1,1180.4" fill="#ff00ff"/>
<polygon points="413.2,1201.0 396.9,1171.0 429.5,1171.0" fill="#ff00ff"/>
<polygon points="460.6,1138.0 444.3,1108.0 476.9,1108.0" fill="#ff00ff"/>
<polygon points="508.0,962.2 491.7,932.2 524.3,932.2" fill="#ff00ff"/>
<polygon points="555.4,814.5 539.1,784.5 571.7,784.5" fill="#ff00ff"/>
<polygon points="602.8,711.7 586.5,681.7 619.1,681.7" fill="#ff00ff"/>
<polygon points="650.2,628.5 633.9,598.5 666.5,598.5" fill="#ff00ff"/>
<polygon points="697.6,574.2 681.3,544.2 713.9,544.2" fill="#ff00ff"/>
<polygon points="745.0,529.4 728.7,499.4 761.3,499.4" fill="#ff00ff"/>
<polygon points="792.4,499.0 776.1,469.0 808.7,469.0" fill="#ff00ff"/>
<polygon points="839.8,479.4 823.5,449.4 856.1,449.4" fill="#ff00ff"/>
<polygon points="887.2,464.2 870.9,434.2 903.5,434.2" fill="#ff00ff"/>
<polygon points="934.6,454.1 918.3,424.1 950.9,424.1" fill="#ff00ff"/>
<polygon points="982.0,446.8 965.7,416.8 998.3,416.8" fill="#ff00ff"/>
<polygon points="1029.4,441.8 1013.1,411.8 1045.7,411.8" fill="#ff00ff"/>
<polygon points="1076.8,438.9 1060.5,408.9 1093.1,408.9" fill="#ff00ff"/>
<polygon points="1124.2,437.4 1107.9,407.4 1140.5,407.4" fill="#ff00ff"/>
<polygon points="1171.6,437.4 1155.3,407.4 1187.9,407.4" fill="#ff00ff"/>
<polygon points="1219.0,438.2 1202.7,408.2 1235.3,408.2" fill="#ff00ff"/>
<polygon points="1266.4,438.9 1250.1,408.9 1282.7,408.9" fill="#ff00ff"/>
<polygon points="1313.8,438.9 1297.5,408.9 1330.1,408.9" fill="#ff00ff"/>
<polygon points="1361.2,439.6 1344.9,409.6 1377.5,409.6" fill="#ff00ff"/>
<polygon points="1408.6,441.1 1392.3,411.1 1424.9,411.1" fill="#ff00ff"/>
<polygon points="1456.0,441.8 1439.7,411.8 1472.3,411.8" fill="#ff00ff"/>
<polygon points="1503.4,443.2 1487.1,413.2 1519.7,413.2" fill="#ff00ff"/>
<polygon points="1550.8,445.4 1534.5,415.4 1567.1,415.4" fill="#ff00ff"/>
<polygon points="1598.2,446.1 1581.9,416.1 1614.5,416.1" fill="#ff00ff"/>
<polygon points="1645.6,447.6 1629.3,417.6 1661.9,417.6" fill="#ff00ff"/>
<polygon points="1693.0,448.3 1676.7,418.3 1709.3,418.3" fill="#ff00ff"/>
<polygon points="1740.4,449.7 1724.1,419.7 1756.7,419.7" fill="#ff00ff"/>
<polygon points="1787.8,451.2 1771.5,421.2 1804.1,421.2" fill="#ff00ff"/>
</g>
<g><polyline points="223.6,993.2 228.8,1008.8 234.1,1105.3 239.4,1142.6 244.6,1148.8 247.3,1148.9 249.9,1149.0 252.5,1149.1 255.2,1149.2 257.8,1149.5 260.4,1149.9 263.1,1150.2 265.7,1150.5 268.3,1150.8 271.0,1151.0 273.6,1151.3 276.2,1151.6 278.9,1152.2 281.5,1153.0 284.1,1154.1 286.8,1155.1 289.4,1156.0 292.0,1156.8 294.7,1157.4 297.3,1158.1 299.9,1158.9 302.6,1159.8 305.2,1161.0 307.8,1162.1 310.5,1163.1 313.1,1163.9 315.7,1164.4 318.4,1164.8 321.0,1165.1 323.6,1165.6 326.3,1166.2 328.9,1166.9 331.5,1167.6 334.2,1168.3 336.8,1168.8 339.4,1169.2 342.1,1169.6 344.7,1169.9 347.3,1170.3 350.0,1170.7 352.6,1171.1 355.2,1171.5 357.9,1171.8 360.5,1171.9 363.1,1172.0 365.8,1172.0 368.4,1171.9 371.0,1171.8 373.7,1171.6 376.3,1171.4 378.9,1171.1 381.6,1170.9 384.2,1170.5 386.8,1169.9 389.5,1169.2 392.1,1168.3 394.7,1167.5 397.4,1166.8 400.0,1166.2 402.6,1165.7 405.3,1165.0 407.9,1164.2 410.5,1163.1 413.2,1161.9 415.8,1160.2 418.4,1158.0 421.1,1155.8 423.7,1153.8 426.3,1151.8 429.0,1149.4 431.6,1146.2 434.2,1141.7 436.9,1136.2 439.5,1130.4 442.1,1124.9 444.8,1120.3 447.4,1116.5 450.0,1113.0 452.7,1109.1 455.3,1104.2 457.9,1098.0 460.6,1090.9 463.2,1083.5 465.8,1076.0 468.5,1069.5 471.1,1064.0 473.7,1058.8 476.4,1053.0 479.0,1045.3 481.6,1035.3 484.3,1023.8 486.9,1011.9 489.5,1001.1 492.2,992.3 494.8,985.2 497.4,978.9 500.1,971.9 502.7,963.0 505.3,952.3 508.0,940.4 510.6,928.3 513.2,917.1 515.9,907.7 518.5,900.1 521.1,893.2 523.8,885.4 526.4,875.6 529.0,863.3 531.7,849.6 534.3,836.0 536.9,824.2 539.6,814.9 542.2,807.7 544.8,801.4 547.5,794.5 550.1,786.2 552.7,776.6 555.4,766.7 558.0,757.4 560.6,749.5 563.3,743.3 565.9,738.5 568.5,734.3 571.2,729.6 573.8,724.0 576.4,717.1 579.1,709.7 581.7,702.4 584.3,696.2 587.0,691.2 589.6,687.3 592.2,683.9 594.9,680.1 597.5,675.4 600.1,669.6 602.8,663.2 605.4,656.9 608.0,651.5 610.7,647.2 613.3,643.9 615.9,640.9 618.6,637.6 621.2,633.6 623.8,628.7 626.5,623.3 629.1,617.9 631.7,613.2 634.4,609.4 637.0,606.5 639.6,603.8 642.3,600.8 644.9,597.1 647.5,592.4 650.2,587.2 652.8,581.9 655.4,577.2 658.1,573.3 660.7,570.3 663.3,567.5 666.0,564.5 668.6,560.7 671.2,556.0 673.9,550.8 676.5,545.6 679.1,541.2 681.8,537.6 684.4,534.9 687.0,532.4 689.7,529.8 692.3,526.5 694.9,522.6 697.6,518.4 700.2,514.4 702.8,511.0 705.5,508.2 708.1,506.1 710.7,504.2 713.4,502.1 716.0,499.5 718.6,496.4 721.3,492.9 723.9,489.6 726.5,486.7 729.2,484.4 731.8,482.5 734.4,480.9 737.1,479.2 739.7,477.0 742.3,474.3 745.0,471.4 747.6,468.5 750.2,466.0 752.9,463.9 755.5,462.3 758.1,460.9 760.8,459.3 763.4,457.4 766.0,455.0 768.7,452.4 771.3,449.9 773.9,447.7 776.6,446.0 779.2,444.6 781.8,443.5 784.5,442.2 787.1,440.6 789.7,438.7 792.4,436.7 795.0,434.7 797.6,433.0 800.3,431.7 802.9,430.6 805.5,429.7 808.2,428.7 810.8,427.5 813.4,426.0 816.1,424.4 818.7,422.8 821.3,421.4 824.0,420.3 826.6,419.4 829.2,418.7 831.9,417.9 834.5,416.8 837.1,415.6 839.8,414.2 842.4,412.9 845.0,411.7 847.7,410.8 850.3,410.1 852.9,409.5 855.6,408.8 858.2,408.0 860.8,407.0 863.5,405.8 866.1,404.7 868.7,403.7 871.4,402.9 874.0,402.3 876.6,401.8 879.3,401.1 881.9,400.4 884.5,399.4 887.2,398.3 889.8,397.2 892.4,396.2 895.1,395.4 897.7,394.7 900.3,394.2 903.0,393.5 905.6,392.7 908.2,391.7 910.9,390.6 913.5,389.6 916.1,388.6 918.8,387.9 921.4,387.3 924.0,386.8 926.7,386.2 929.3,385.5 931.9,384.7 934.6,383.8 937.2,383.0 939.8,382.2 942.5,381.6 945.1,381.1 947.7,380.7 950.4,380.2 953.0,379.6 955.6,378.9 958.3,378.2 960.9,377.4 963.5,376.8 966.2,376.3 968.8,375.9 971.4,375.6 974.1,375.2 976.7,374.8 979.3,374.2 982.0,373.7 984.6,373.2 987.2,372.7 989.9,372.3 992.5,372.1 995.1,371.8 997.8,371.6 1000.4,371.2 1003.0,370.8 1005.7,370.4 1008.3,370.0 1010.9,369.7 1013.6,369.4 1016.2,369.2 1018.8,369.0 1021.5,368.8 1024.1,368.5 1026.7,368.2 1029.4,367.9 1032.0,367.6 1034.6,367.3 1037.3,367.0 1039.9,366.8 1042.5,366.7 1045.2,366.5 1047.8,366.3 1050.4,366.0 1053.1,365.7 1055.7,365.4 1058.3,365.2 1061.0,365.0 1063.6,364.9 1066.2,364.7 1068.9,364.6 1071.5,364.5 1074.1,364.4 1076.8,364.3 1079.4,364.2 1082.0,364.1 1084.7,364.1 1087.3,364.0 1089.9,364.0 1092.6,363.9 1095.2,363.9 1097.8,363.8 1100.5,363.8 1103.1,363.7 1105.7,363.7 1108.4,363.6 1111.0,363.6 1113.6,363.6 1116.3,363.6 1118.9,363.6 1121.5,363.6 1124.2,363.5 1126.8,363.5 1129.4,363.5 1132.1,363.5 1134.7,363.5 1137.3,363.5 1140.0,363.5 1142.6,363.5 1145.2,363.5 1147.9,363.5 1150.5,363.5 1153.1,363.5 1155.8,363.5 1158.4,363.5 1161.0,363.5 1163.7,363.5 1166.3,363.5 1168.9,363.5 1171.6,363.5 1174.2,363.5 1176.8,363.5 1179.5,363.5 1182.1,363.5 1184.7,363.5 1187.4,363.5 1190.0,363.5 1192.6,363.5 1195.3,363.5 1197.9,363.5 1200.5,363.5 1203.2,363.5 1205.8,363.5 1208.4,363.5 1211.1,363.5 1213.7,363.5 1216.3,363.5 1219.0,363.5 1221.6,363.6 1224.2,363.6 1226.9,363.6 1229.5,363.7 1232.1,363.8 1234.8,363.9 1237.4,364.0 1240.0,364.1 1242.7,364.2 1245.3,364.2 1247.9,364.3 1250.6,364.4 1253.2,364.6 1255.8,364.7 1258.5,364.8 1261.1,364.9 1263.7,365.0 1266.4,365.0 1269.0,365.0 1271.6,365.1 1274.3,365.1 1276.9,365.2 1279.5,365.2 1282.2,365.3 1284.8,365.3 1287.4,365.4 1290.1,365.4 1292.7,365.4 1295.3,365.4 1298.0,365.5 1300.6,365.5 1303.2,365.6 1305.9,365.6 1308.5,365.7 1311.1,365.7 1313.8,365.7 1316.4,365.7 1319.0,365.8 1321.7,365.8 1324.3,365.9 1326.9,365.9 1329.6,366.0 1332.2,366.0 1334.8,366.0 1337.5,366.1 1340.1,366.1 1342.7,366.1 1345.4,366.2 1348.0,366.2 1350.6,366.3 1353.3,366.3 1355.9,366.4 1358.5,366.4 1361.2,366.4 1363.8,366.5 1366.4,366.5 1369.1,366.6 1371.7,366.7 1374.3,366.8 1377.0,366.9 1379.6,367.0 1382.2,367.0 1384.9,367.1 1387.5,367.2 1390.1,367.2 1392.8,367.3 1395.4,367.4 1398.0,367.6 1400.7,367.7 1403.3,367.8 1405.9,367.8 1408.6,367.9 1411.2,367.9 1413.8,368.0 1416.5,368.1 1419.1,368.2 1421.7,368.3 1424.4,368.4 1427.0,368.5 1429.6,368.5 1432.3,368.6 1434.9,368.6 1437.5,368.7 1440.2,368.8 1442.8,368.9 1445.4,369.0 1448.1,369.1 1450.7,369.2 1453.3,369.3 1456.0,369.3 1458.6,369.4 1461.2,369.5 1463.9,369.6 1466.5,369.7 1469.1,369.9 1471.8,370.0 1474.4,370.2 1477.0,370.3 1479.7,370.4 1482.3,370.5 1484.9,370.6 1487.6,370.7 1490.2,370.9 1492.8,371.0 1495.5,371.2 1498.1,371.3 1500.7,371.4 1503.4,371.5 1506.0,371.6 1508.6,371.7 1511.3,371.8 1513.9,372.0 1516.5,372.1 1519.2,372.2 1521.8,372.4 1524.4,372.5 1527.1,372.5 1529.7,372.6 1532.3,372.7 1535.0,372.8 1537.6,373.0 1540.2,373.1 1542.9,373.3 1545.5,373.5 1548.1,373.6 1550.8,373.7 1553.4,373.8 1556.0,373.9 1558.7,374.1 1561.3,374.3 1563.9,374.6 1566.6,374.9 1569.2,375.1 1571.8,375.3 1574.5,375.4 1577.1,375.6 1579.7,375.8 1582.4,376.0 1585.0,376.3 1587.6,376.6 1590.3,376.8 1592.9,377.0 1595.5,377.2 1598.2,377.3 1600.8,377.4 1603.4,377.6 1606.1,377.7 1608.7,377.9 1611.3,378.2 1614.0,378.4 1616.6,378.5 1619.2,378.6 1621.9,378.7 1624.5,378.9 1627.1,379.0 1629.8,379.1 1632.4,379.3 1635.0,379.5 1637.7,379.8 1640.3,379.9 1642.9,380.1 1645.6,380.2 1648.2,380.3 1650.8,380.5 1653.5,380.7 1656.1,380.9 1658.7,381.2 1661.4,381.5 1664.0,381.7 1666.6,381.9 1669.3,382.1 1671.9,382.2 1674.5,382.4 1677.2,382.6 1679.8,382.9 1682.4,383.1 1685.1,383.4 1687.7,383.6 1690.3,383.7 1693.0,383.8 1695.6,383.9 1698.2,384.0 1700.9,384.2 1703.5,384.3 1706.1,384.5 1708.8,384.7 1711.4,384.8 1714.0,384.9 1716.7,385.0 1719.3,385.0 1721.9,385.1 1724.6,385.3 1727.2,385.4 1729.8,385.5 1732.5,385.7 1735.1,385.8 1737.7,385.9 1740.4,386.0 1743.0,386.1 1745.6,386.2 1748.3,386.3 1750.9,386.4 1753.5,386.6 1756.2,386.8 1758.8,386.9 1761.4,387.0 1764.1,387.1 1766.7,387.2 1769.3,387.3 1772.0,387.4 1774.6,387.5 1777.2,387.7 1779.9,387.8 1782.5,388.0 1785.1,388.1 1787.8,388.2" fill="none" stroke="#008000" stroke-width="4.1" stroke-linejoin="round"/>
<polygon points="223.6,975.2 239.2,993.2 223.6,1011.2 208.0,993.2" fill="#008000"/>
<polygon points="271.0,1133.0 286.6,1151.0 271.0,1169.0 255.4,1151.0" fill="#008000"/>
<polygon points="318.4,1146.8 334.0,1164.8 318.4,1182.8 302.8,1164.8" fill="#008000"/>
<polygon points="365.8,1154.0 381.4,1172.0 365.8,1190.0 350.2,1172.0" fill="#008000"/>
<polygon points="413.2,1143.9 428.8,1161.9 413.2,1179.9 397.6,1161.9" fill="#008000"/>
<polygon points="460.6,1072.9 476.2,1090.9 460.6,1108.9 445.0,1090.9" fill="#008000"/>
<polygon points="508.0,922.4 523.6,940.4 508.0,958.4 492.4,940.4" fill="#008000"/>
<polygon points="555.4,748.7 571.0,766.7 555.4,784.7 539.8,766.7" fill="#008000"/>
<polygon points="602.8,645.2 618.4,663.2 602.8,681.2 587.2,663.2" fill="#008000"/>
<polygon points="650.2,569.2 665.8,587.2 650.2,605.2 634.6,587.2" fill="#008000"/>
<polygon points="697.6,500.4 713.2,518.4 697.6,536.4 682.0,518.4" fill="#008000"/>
<polygon points="745.0,453.4 760.6,471.4 745.0,489.4 729.4,471.4" fill="#008000"/>
<polygon points="792.4,418.7 808.0,436.7 792.4,454.7 776.8,436.7" fill="#008000"/>
<polygon points="839.8,396.2 855.4,414.2 839.8,432.2 824.2,414.2" fill="#008000"/>
<polygon points="887.2,380.3 902.8,398.3 887.2,416.3 871.6,398.3" fill="#008000"/>
<polygon points="934.6,365.8 950.2,383.8 934.6,401.8 919.0,383.8" fill="#008000"/>
<polygon points="982.0,355.7 997.6,373.7 982.0,391.7 966.4,373.7" fill="#008000"/>
<polygon points="1029.4,349.9 1045.0,367.9 1029.4,385.9 1013.8,367.9" fill="#008000"/>
<polygon points="1076.8,346.3 1092.4,364.3 1076.8,382.3 1061.2,364.3" fill="#008000"/>
<polygon points="1124.2,345.5 1139.8,363.5 1124.2,381.5 1108.6,363.5" fill="#008000"/>
<polygon points="1171.6,345.5 1187.2,363.5 1171.6,381.5 1156.0,363.5" fill="#008000"/>
<polygon points="1219.0,345.5 1234.6,363.5 1219.0,381.5 1203.4,363.5" fill="#008000"/>
<polygon points="1266.4,347.0 1282.0,365.0 1266.4,383.0 1250.8,365.0" fill="#008000"/>
<polygon points="1313.8,347.7 1329.4,365.7 1313.8,383.7 1298.2,365.7" fill="#008000"/>
<polygon points="1361.2,348.4 1376.8,366.4 1361.2,384.4 1345.6,366.4" fill="#008000"/>
<polygon points="1408.6,349.9 1424.2,367.9 1408.6,385.9 1393.0,367.9" fill="#008000"/>
<polygon points="1456.0,351.3 1471.6,369.3 1456.0,387.3 1440.4,369.3" fill="#008000"/>
<polygon points="1503.4,353.5 1519.0,371.5 1503.4,389.5 1487.8,371.5" fill="#008000"/>
<polygon points="1550.8,355.7 1566.4,373.7 1550.8,391.7 1535.2,373.7" fill="#008000"/>
<polygon points="1598.2,359.3 1613.8,377.3 1598.2,395.3 1582.6,377.3" fill="#008000"/>
<polygon points="1645.6,362.2 1661.2,380.2 1645.6,398.2 1630.0,380.2" fill="#008000"/>
<polygon points="1693.0,365.8 1708.6,383.8 1693.0,401.8 1677.4,383.8" fill="#008000"/>
<polygon points="1740.4,368.0 1756.0,386.0 1740.4,404.0 1724.8,386.0" fill="#008000"/>
<polygon points="1787.8,370.2 1803.4,388.2 1787.8,406.2 1772.2,388.2" fill="#008000"/>
</g>
<g><polyline points="223.6,1051.1 228.8,1058.5 234.1,1104.3 239.4,1122.0 244.6,1125.0 247.3,1125.0 249.9,1125.0 252.5,1125.1 255.2,1125.3 257.8,1125.6 260.4,1125.9 263.1,1126.3 265.7,1126.6 268.3,1126.9 271.0,1127.1 273.6,1127.4 276.2,1127.9 278.9,1128.7 281.5,1130.0 284.1,1131.5 286.8,1133.1 289.4,1134.6 292.0,1135.8 294.7,1136.8 297.3,1137.8 299.9,1139.0 302.6,1140.6 305.2,1142.3 307.8,1144.0 310.5,1145.3 313.1,1146.3 315.7,1147.0 318.4,1147.4 321.0,1147.8 323.6,1148.2 326.3,1148.8 328.9,1149.5 331.5,1150.1 334.2,1150.8 336.8,1151.2 339.4,1151.6 342.1,1151.9 344.7,1152.2 347.3,1152.5 350.0,1152.8 352.6,1153.2 355.2,1153.5 357.9,1153.7 360.5,1153.9 363.1,1153.9 365.8,1153.9 368.4,1153.7 371.0,1153.1 373.7,1152.3 376.3,1151.5 378.9,1150.7 381.6,1149.7 384.2,1148.2 386.8,1146.2 389.5,1143.6 392.1,1140.8 394.7,1138.1 397.4,1135.7 400.0,1133.8 402.6,1132.1 405.3,1130.1 407.9,1127.5 410.5,1124.3 413.2,1120.6 415.8,1116.5 418.4,1112.1 421.1,1108.0 423.7,1104.5 426.3,1101.2 429.0,1097.3 431.6,1092.1 434.2,1085.2 436.9,1077.1 439.5,1068.5 442.1,1060.6 444.8,1054.1 447.4,1048.8 450.0,1044.1 452.7,1038.7 455.3,1031.9 457.9,1023.6 460.6,1014.2 463.2,1004.6 465.8,995.5 468.5,987.8 471.1,981.5 473.7,975.7 476.4,969.2 479.0,960.7 481.6,950.1 484.3,937.9 486.9,925.6 489.5,914.5 492.2,905.6 494.8,898.5 497.4,892.2 500.1,885.2 502.7,876.4 505.3,865.9 508.0,854.3 510.6,842.8 513.2,832.5 515.9,824.2 518.5,817.6 521.1,811.6 523.8,805.0 526.4,796.6 529.0,786.3 531.7,774.8 534.3,763.4 536.9,753.4 539.6,745.4 542.2,739.1 544.8,733.5 547.5,727.3 550.1,719.6 552.7,710.3 555.4,700.1 558.0,690.1 560.6,681.2 563.3,674.1 565.9,668.5 568.5,663.5 571.2,658.0 573.8,651.0 576.4,642.6 579.1,633.3 581.7,624.1 584.3,616.2 587.0,609.8 589.6,604.9 592.2,600.5 594.9,595.7 597.5,589.8 600.1,582.6 602.8,574.9 605.4,567.3 608.0,560.7 610.7,555.4 613.3,551.3 615.9,547.6 618.6,543.5 621.2,538.5 623.8,532.4 626.5,525.7 629.1,519.2 631.7,513.5 634.4,509.1 637.0,505.6 639.6,502.6 642.3,499.3 644.9,495.2 647.5,490.3 650.2,485.1 652.8,480.2 655.4,475.9 658.1,472.5 660.7,470.0 663.3,467.7 666.0,465.2 668.6,462.1 671.2,458.4 673.9,454.3 676.5,450.3 679.1,446.8 681.8,444.0 684.4,441.9 687.0,439.9 689.7,437.8 692.3,435.0 694.9,431.7 697.6,428.0 700.2,424.2 702.8,420.9 705.5,418.2 708.1,416.1 710.7,414.2 713.4,412.1 716.0,409.5 718.6,406.3 721.3,402.7 723.9,399.3 726.5,396.3 729.2,393.9 731.8,392.0 734.4,390.4 737.1,388.6 739.7,386.4 742.3,383.7 745.0,380.9 747.6,378.2 750.2,375.8 752.9,373.9 755.5,372.4 758.1,371.0 760.8,369.6 763.4,367.8 766.0,365.6 768.7,363.2 771.3,360.9 773.9,358.9 776.6,357.3 779.2,356.1 781.8,355.1 784.5,353.9 787.1,352.5 789.7,350.8 792.4,349.1 795.0,347.4 797.6,346.0 800.3,344.9 802.9,344.0 805.5,343.3 808.2,342.5 810.8,341.5 813.4,340.3 816.1,339.0 818.7,337.7 821.3,336.6 824.0,335.7 826.6,335.0 829.2,334.4 831.9,333.6 834.5,332.7 837.1,331.6 839.8,330.3 842.4,328.9 845.0,327.6 847.7,326.6 850.3,325.7 852.9,325.0 855.6,324.1 858.2,323.1 860.8,321.7 863.5,320.3 866.1,318.9 868.7,317.7 871.4,316.7 874.0,316.0 876.6,315.4 879.3,314.7 881.9,313.9 884.5,313.0 887.2,312.2 889.8,311.4 892.4,310.7 895.1,310.2 897.7,309.9 900.3,309.5 903.0,309.2 905.6,308.7 908.2,308.2 910.9,307.7 913.5,307.2 916.1,306.7 918.8,306.3 921.4,306.1 924.0,305.8 926.7,305.5 929.3,305.2 931.9,304.7 934.6,304.2 937.2,303.7 939.8,303.2 942.5,302.9 945.1,302.6 947.7,302.3 950.4,302.1 953.0,301.7 955.6,301.3 958.3,300.8 960.9,300.3 963.5,299.9 966.2,299.6 968.8,299.3 971.4,299.1 974.1,298.9 976.7,298.5 979.3,298.1 982.0,297.7 984.6,297.2 987.2,296.8 989.9,296.5 992.5,296.3 995.1,296.0 997.8,295.8 1000.4,295.5 1003.0,295.1 1005.7,294.6 1008.3,294.2 1010.9,293.8 1013.6,293.5 1016.2,293.3 1018.8,293.1 1021.5,292.9 1024.1,292.6 1026.7,292.3 1029.4,291.9 1032.0,291.5 1034.6,291.2 1037.3,291.0 1039.9,290.7 1042.5,290.6 1045.2,290.4 1047.8,290.1 1050.4,289.8 1053.1,289.5 1055.7,289.1 1058.3,288.9 1061.0,288.6 1063.6,288.5 1066.2,288.3 1068.9,288.2 1071.5,288.0 1074.1,287.8 1076.8,287.6 1079.4,287.3 1082.0,287.2 1084.7,287.0 1087.3,286.9 1089.9,286.8 1092.6,286.7 1095.2,286.6 1097.8,286.4 1100.5,286.2 1103.1,286.1 1105.7,285.9 1108.4,285.8 1111.0,285.8 1113.6,285.7 1116.3,285.6 1118.9,285.6 1121.5,285.5 1124.2,285.4 1126.8,285.3 1129.4,285.2 1132.1,285.2 1134.7,285.1 1137.3,285.1 1140.0,285.1 1142.6,285.0 1145.2,284.9 1147.9,284.9 1150.5,284.8 1153.1,284.8 1155.8,284.8 1158.4,284.7 1161.0,284.7 1163.7,284.7 1166.3,284.7 1168.9,284.7 1171.6,284.7 1174.2,284.7 1176.8,284.7 1179.5,284.7 1182.1,284.7 1184.7,284.7 1187.4,284.7 1190.0,284.7 1192.6,284.7 1195.3,284.7 1197.9,284.7 1200.5,284.7 1203.2,284.7 1205.8,284.7 1208.4,284.7 1211.1,284.7 1213.7,284.7 1216.3,284.7 1219.0,284.7 1221.6,284.7 1224.2,284.7 1226.9,284.7 1229.5,284.7 1232.1,284.7 1234.8,284.8 1237.4,284.8 1240.0,284.9 1242.7,284.9 1245.3,284.9 1247.9,285.0 1250.6,285.0 1253.2,285.1 1255.8,285.2 1258.5,285.2 1261.1,285.3 1263.7,285.3 1266.4,285.4 1269.0,285.4 1271.6,285.5 1274.3,285.5 1276.9,285.6 1279.5,285.7 1282.2,285.8 1284.8,285.9 1287.4,286.0 1290.1,286.0 1292.7,286.1 1295.3,286.1 1298.0,286.2 1300.6,286.3 1303.2,286.5 1305.9,286.6 1308.5,286.7 1311.1,286.8 1313.8,286.8 1316.4,286.9 1319.0,287.0 1321.7,287.1 1324.3,287.2 1326.9,287.4 1329.6,287.5 1332.2,287.7 1334.8,287.8 1337.5,287.9 1340.1,287.9 1342.7,288.1 1345.4,288.2 1348.0,288.4 1350.6,288.5 1353.3,288.7 1355.9,288.8 1358.5,288.9 1361.2,289.0 1363.8,289.1 1366.4,289.2 1369.1,289.3 1371.7,289.4 1374.3,289.6 1377.0,289.7 1379.6,289.8 1382.2,289.9 1384.9,290.0 1387.5,290.1 1390.1,290.2 1392.8,290.3 1395.4,290.5 1398.0,290.6 1400.7,290.8 1403.3,290.9 1405.9,291.1 1408.6,291.2 1411.2,291.3 1413.8,291.4 1416.5,291.6 1419.1,291.8 1421.7,292.1 1424.4,292.3 1427.0,292.5 1429.6,292.7 1432.3,292.9 1434.9,293.0 1437.5,293.2 1440.2,293.4 1442.8,293.7 1445.4,294.0 1448.1,294.3 1450.7,294.5 1453.3,294.6 1456.0,294.8 1458.6,294.9 1461.2,295.1 1463.9,295.3 1466.5,295.6 1469.1,295.9 1471.8,296.1 1474.4,296.3 1477.0,296.5 1479.7,296.6 1482.3,296.8 1484.9,297.0 1487.6,297.2 1490.2,297.4 1492.8,297.7 1495.5,297.9 1498.1,298.1 1500.7,298.3 1503.4,298.4 1506.0,298.5 1508.6,298.7 1511.3,298.9 1513.9,299.1 1516.5,299.3 1519.2,299.5 1521.8,299.7 1524.4,299.8 1527.1,299.9 1529.7,300.0 1532.3,300.1 1535.0,300.3 1537.6,300.5 1540.2,300.7 1542.9,300.9 1545.5,301.1 1548.1,301.2 1550.8,301.3 1553.4,301.4 1556.0,301.6 1558.7,301.7 1561.3,301.9 1563.9,302.2 1566.6,302.4 1569.2,302.5 1571.8,302.7 1574.5,302.8 1577.1,302.9 1579.7,303.1 1582.4,303.2 1585.0,303.4 1587.6,303.6 1590.3,303.8 1592.9,304.0 1595.5,304.1 1598.2,304.2 1600.8,304.3 1603.4,304.4 1606.1,304.5 1608.7,304.7 1611.3,304.8 1614.0,305.0 1616.6,305.1 1619.2,305.2 1621.9,305.3 1624.5,305.4 1627.1,305.5 1629.8,305.6 1632.4,305.7 1635.0,305.9 1637.7,306.0 1640.3,306.2 1642.9,306.3 1645.6,306.4 1648.2,306.5 1650.8,306.6 1653.5,306.7 1656.1,306.9 1658.7,307.2 1661.4,307.4 1664.0,307.6 1666.6,307.7 1669.3,307.8 1671.9,307.9 1674.5,308.1 1677.2,308.3 1679.8,308.5 1682.4,308.7 1685.1,308.9 1687.7,309.0 1690.3,309.2 1693.0,309.3 1695.6,309.4 1698.2,309.5 1700.9,309.6 1703.5,309.7 1706.1,309.9 1708.8,310.0 1711.4,310.1 1714.0,310.2 1716.7,310.3 1719.3,310.4 1721.9,310.5 1724.6,310.6 1727.2,310.7 1729.8,310.9 1732.5,311.1 1735.1,311.2 1737.7,311.3 1740.4,311.4 1743.0,311.6 1745.6,311.7 1748.3,311.9 1750.9,312.1 1753.5,312.4 1756.2,312.7 1758.8,312.9 1761.4,313.1 1764.1,313.3 1766.7,313.5 1769.3,313.7 1772.0,314.0 1774.6,314.3 1777.2,314.7 1779.9,315.0 1782.5,315.3 1785.1,315.6 1787.8,315.8" fill="none" stroke="#000080" stroke-width="4.1" stroke-linejoin="round"/>
<polygon points="204.0,1051.1 234.0,1033.9 234.0,1068.3" fill="#000080"/>
<polygon points="251.4,1127.1 281.4,1109.9 281.4,1144.3" fill="#000080"/>
<polygon points="298.8,1147.4 328.8,1130.2 328.8,1164.6" fill="#000080"/>
<polygon points="346.2,1153.9 376.2,1136.7 376.2,1171.1" fill="#000080"/>
<polygon points="393.6,1120.6 423.6,1103.4 423.6,1137.8" fill="#000080"/>
<polygon points="441.0,1014.2 471.0,997.0 471.0,1031.4" fill="#000080"/>
<polygon points="488.4,854.3 518.4,837.1 518.4,871.5" fill="#000080"/>
<polygon points="535.8,700.1 565.8,682.9 565.8,717.3" fill="#000080"/>
<polygon points="583.2,574.9 613.2,557.7 613.2,592.1" fill="#000080"/>
<polygon points="630.6,485.1 660.6,467.9 660.6,502.3" fill="#000080"/>
<polygon points="678.0,428.0 708.0,410.8 708.0,445.2" fill="#000080"/>
<polygon points="725.4,380.9 755.4,363.7 755.4,398.1" fill="#000080"/>
<polygon points="772.8,349.1 802.8,331.9 802.8,366.3" fill="#000080"/>
<polygon points="820.2,330.3 850.2,313.1 850.2,347.5" fill="#000080"/>
<polygon points="867.6,312.2 897.6,295.0 897.6,329.4" fill="#000080"/>
<polygon points="915.0,304.2 945.0,287.0 945.0,321.4" fill="#000080"/>
<polygon points="962.4,297.7 992.4,280.5 992.4,314.9" fill="#000080"/>
<polygon points="1009.8,291.9 1039.8,274.7 1039.8,309.1" fill="#000080"/>
<polygon points="1057.2,287.6 1087.2,270.4 1087.2,304.8" fill="#000080"/>
<polygon points="1104.6,285.4 1134.6,268.2 1134.6,302.6" fill="#000080"/>
<polygon points="1152.0,284.7 1182.0,267.5 1182.0,301.9" fill="#000080"/>
<polygon points="1199.4,284.7 1229.4,267.5 1229.4,301.9" fill="#000080"/>
<polygon points="1246.8,285.4 1276.8,268.2 1276.8,302.6" fill="#000080"/>
<polygon points="1294.2,286.8 1324.2,269.6 1324.2,304.0" fill="#000080"/>
<polygon points="1341.6,289.0 1371.6,271.8 1371.6,306.2" fill="#000080"/>
<polygon points="1389.0,291.2 1419.0,274.0 1419.0,308.4" fill="#000080"/>
<polygon points="1436.4,294.8 1466.4,277.6 1466.4,312.0" fill="#000080"/>
<polygon points="1483.8,298.4 1513.8,281.2 1513.8,315.6" fill="#000080"/>
<polygon points="1531.2,301.3 1561.2,284.1 1561.2,318.5" fill="#000080"/>
<polygon points="1578.6,304.2 1608.6,287.0 1608.6,321.4" fill="#000080"/>
<polygon points="1626.0,306.4 1656.0,289.2 1656.0,323.6" fill="#000080"/>
<polygon points="1673.4,309.3 1703.4,292.1 1703.4,326.5" fill="#000080"/>
<polygon points="1720.8,311.4 1750.8,294.2 1750.8,328.6" fill="#000080"/>
<polygon points="1768.2,315.8 1798.2,298.6 1798.2,333.0" fill="#000080"/>
</g>
<g><polyline points="223.6,1217.6 228.8,1210.2 234.1,1164.5 239.4,1146.7 244.6,1143.8 247.3,1144.0 249.9,1144.2 252.5,1144.5 255.2,1144.9 257.8,1145.4 260.4,1146.1 263.1,1146.7 265.7,1147.3 268.3,1147.7 271.0,1148.1 273.6,1148.6 276.2,1149.1 278.9,1150.0 281.5,1151.1 284.1,1152.5 286.8,1153.8 289.4,1155.0 292.0,1156.0 294.7,1156.8 297.3,1157.6 299.9,1158.6 302.6,1159.8 305.2,1161.2 307.8,1162.7 310.5,1164.0 313.1,1165.0 315.7,1165.7 318.4,1166.2 321.0,1166.7 323.6,1167.4 326.3,1168.3 328.9,1169.3 331.5,1170.4 334.2,1171.4 336.8,1172.2 339.4,1172.8 342.1,1173.3 344.7,1173.8 347.3,1174.4 350.0,1175.0 352.6,1175.7 355.2,1176.3 357.9,1176.7 360.5,1177.0 363.1,1177.1 365.8,1177.1 368.4,1177.1 371.0,1177.0 373.7,1177.0 376.3,1177.0 378.9,1176.9 381.6,1176.9 384.2,1176.8 386.8,1176.7 389.5,1176.5 392.1,1176.3 394.7,1176.2 397.4,1176.0 400.0,1175.9 402.6,1175.8 405.3,1175.6 407.9,1175.4 410.5,1175.2 413.2,1174.9 415.8,1174.2 418.4,1172.9 421.1,1171.3 423.7,1169.8 426.3,1168.3 429.0,1166.4 431.6,1163.7 434.2,1160.0 436.9,1155.4 439.5,1150.4 442.1,1145.7 444.8,1141.6 447.4,1138.4 450.0,1135.4 452.7,1132.0 455.3,1127.7 457.9,1122.3 460.6,1116.3 463.2,1109.8 465.8,1103.4 468.5,1097.7 471.1,1092.8 473.7,1088.3 476.4,1083.1 479.0,1076.2 481.6,1067.3 484.3,1056.7 486.9,1045.8 489.5,1035.7 492.2,1027.3 494.8,1020.6 497.4,1014.5 500.1,1007.6 502.7,998.9 505.3,988.1 508.0,975.9 510.6,963.0 513.2,950.6 515.9,940.0 518.5,931.1 521.1,923.1 523.8,913.9 526.4,902.1 529.0,887.3 531.7,870.5 534.3,853.7 536.9,839.0 539.6,827.3 542.2,818.2 544.8,810.3 547.5,801.6 550.1,791.2 552.7,779.1 555.4,766.7 558.0,755.1 560.6,745.2 563.3,737.4 565.9,731.3 568.5,726.0 571.2,720.1 573.8,712.9 576.4,704.2 579.1,694.7 581.7,685.4 584.3,677.4 587.0,671.0 589.6,666.0 592.2,661.6 594.9,656.7 597.5,650.6 600.1,643.2 602.8,635.0 605.4,626.9 608.0,619.8 610.7,614.3 613.3,609.9 615.9,606.0 618.6,601.8 621.2,596.5 623.8,590.0 626.5,582.9 629.1,575.9 631.7,569.8 634.4,564.9 637.0,561.0 639.6,557.6 642.3,553.8 644.9,549.0 647.5,543.1 650.2,536.5 652.8,530.0 655.4,524.1 658.1,519.4 660.7,515.7 663.3,512.3 666.0,508.6 668.6,504.0 671.2,498.3 673.9,492.0 676.5,485.9 679.1,480.5 681.8,476.3 684.4,473.0 687.0,470.1 689.7,466.9 692.3,463.0 694.9,458.3 697.6,453.3 700.2,448.5 702.8,444.3 705.5,441.0 708.1,438.4 710.7,436.1 713.4,433.6 716.0,430.4 718.6,426.7 721.3,422.6 723.9,418.5 726.5,415.0 729.2,412.3 731.8,410.1 734.4,408.2 737.1,406.1 739.7,403.5 742.3,400.3 745.0,396.8 747.6,393.4 750.2,390.5 752.9,388.1 755.5,386.2 758.1,384.6 760.8,382.7 763.4,380.5 766.0,377.7 768.7,374.7 771.3,371.8 773.9,369.2 776.6,367.2 779.2,365.7 781.8,364.3 784.5,362.8 787.1,360.9 789.7,358.7 792.4,356.3 795.0,354.0 797.6,352.0 800.3,350.5 802.9,349.3 805.5,348.2 808.2,347.0 810.8,345.6 813.4,343.9 816.1,341.9 818.7,340.1 821.3,338.4 824.0,337.1 826.6,336.1 829.2,335.2 831.9,334.2 834.5,332.9 837.1,331.3 839.8,329.5 842.4,327.8 845.0,326.2 847.7,324.9 850.3,323.8 852.9,322.9 855.6,321.9 858.2,320.7 860.8,319.1 863.5,317.4 866.1,315.7 868.7,314.3 871.4,313.1 874.0,312.2 876.6,311.5 879.3,310.6 881.9,309.6 884.5,308.4 887.2,307.1 889.8,305.9 892.4,304.8 895.1,304.0 897.7,303.4 900.3,302.8 903.0,302.2 905.6,301.5 908.2,300.6 910.9,299.6 913.5,298.6 916.1,297.8 918.8,297.2 921.4,296.6 924.0,296.2 926.7,295.7 929.3,295.0 931.9,294.2 934.6,293.3 937.2,292.5 939.8,291.7 942.5,291.1 945.1,290.6 947.7,290.1 950.4,289.6 953.0,289.0 955.6,288.3 958.3,287.5 960.9,286.7 963.5,286.0 966.2,285.4 968.8,285.0 971.4,284.6 974.1,284.2 976.7,283.7 979.3,283.1 982.0,282.5 984.6,281.9 987.2,281.3 989.9,280.9 992.5,280.5 995.1,280.2 997.8,279.9 1000.4,279.5 1003.0,279.0 1005.7,278.5 1008.3,277.9 1010.9,277.5 1013.6,277.1 1016.2,276.9 1018.8,276.6 1021.5,276.4 1024.1,276.0 1026.7,275.7 1029.4,275.2 1032.0,274.9 1034.6,274.5 1037.3,274.3 1039.9,274.1 1042.5,273.9 1045.2,273.7 1047.8,273.5 1050.4,273.2 1053.1,272.9 1055.7,272.6 1058.3,272.3 1061.0,272.1 1063.6,272.0 1066.2,271.8 1068.9,271.6 1071.5,271.4 1074.1,271.2 1076.8,270.9 1079.4,270.6 1082.0,270.4 1084.7,270.2 1087.3,270.0 1089.9,269.8 1092.6,269.7 1095.2,269.5 1097.8,269.2 1100.5,268.9 1103.1,268.7 1105.7,268.4 1108.4,268.3 1111.0,268.1 1113.6,268.0 1116.3,267.9 1118.9,267.7 1121.5,267.5 1124.2,267.3 1126.8,267.1 1129.4,266.9 1132.1,266.8 1134.7,266.7 1137.3,266.6 1140.0,266.5 1142.6,266.3 1145.2,266.2 1147.9,266.0 1150.5,265.8 1153.1,265.7 1155.8,265.6 1158.4,265.5 1161.0,265.4 1163.7,265.4 1166.3,265.3 1168.9,265.2 1171.6,265.1 1174.2,265.0 1176.8,265.0 1179.5,264.9 1182.1,264.9 1184.7,264.8 1187.4,264.8 1190.0,264.7 1192.6,264.7 1195.3,264.6 1197.9,264.6 1200.5,264.5 1203.2,264.5 1205.8,264.5 1208.4,264.4 1211.1,264.4 1213.7,264.4 1216.3,264.4 1219.0,264.4 1221.6,264.4 1224.2,264.4 1226.9,264.4 1229.5,264.4 1232.1,264.4 1234.8,264.4 1237.4,264.4 1240.0,264.4 1242.7,264.4 1245.3,264.4 1247.9,264.4 1250.6,264.4 1253.2,264.4 1255.8,264.4 1258.5,264.4 1261.1,264.4 1263.7,264.4 1266.4,264.4 1269.0,264.4 1271.6,264.4 1274.3,264.5 1276.9,264.5 1279.5,264.6 1282.2,264.7 1284.8,264.8 1287.4,264.9 1290.1,265.0 1292.7,265.1 1295.3,265.2 1298.0,265.3 1300.6,265.4 1303.2,265.5 1305.9,265.7 1308.5,265.7 1311.1,265.8 1313.8,265.8 1316.4,265.9 1319.0,265.9 1321.7,266.0 1324.3,266.0 1326.9,266.1 1329.6,266.1 1332.2,266.2 1334.8,266.2 1337.5,266.2 1340.1,266.3 1342.7,266.3 1345.4,266.3 1348.0,266.4 1350.6,266.4 1353.3,266.5 1355.9,266.5 1358.5,266.5 1361.2,266.6 1363.8,266.6 1366.4,266.6 1369.1,266.7 1371.7,266.7 1374.3,266.8 1377.0,266.8 1379.6,266.9 1382.2,266.9 1384.9,266.9 1387.5,267.0 1390.1,267.0 1392.8,267.0 1395.4,267.1 1398.0,267.1 1400.7,267.2 1403.3,267.2 1405.9,267.3 1408.6,267.3 1411.2,267.3 1413.8,267.4 1416.5,267.4 1419.1,267.5 1421.7,267.5 1424.4,267.6 1427.0,267.7 1429.6,267.7 1432.3,267.7 1434.9,267.8 1437.5,267.8 1440.2,267.9 1442.8,267.9 1445.4,268.0 1448.1,268.0 1450.7,268.0 1453.3,268.0 1456.0,268.0 1458.6,268.0 1461.2,268.0 1463.9,268.0 1466.5,268.0 1469.1,268.0 1471.8,268.0 1474.4,268.0 1477.0,268.0 1479.7,268.0 1482.3,268.0 1484.9,268.0 1487.6,268.0 1490.2,268.0 1492.8,268.0 1495.5,268.0 1498.1,268.0 1500.7,268.0 1503.4,268.0 1506.0,268.0 1508.6,268.0 1511.3,268.0 1513.9,268.1 1516.5,268.2 1519.2,268.2 1521.8,268.3 1524.4,268.3 1527.1,268.4 1529.7,268.4 1532.3,268.5 1535.0,268.5 1537.6,268.6 1540.2,268.6 1542.9,268.7 1545.5,268.7 1548.1,268.7 1550.8,268.7 1553.4,268.7 1556.0,268.7 1558.7,268.7 1561.3,268.7 1563.9,268.7 1566.6,268.7 1569.2,268.7 1571.8,268.7 1574.5,268.7 1577.1,268.7 1579.7,268.7 1582.4,268.7 1585.0,268.7 1587.6,268.7 1590.3,268.7 1592.9,268.7 1595.5,268.7 1598.2,268.7 1600.8,268.7 1603.4,268.7 1606.1,268.8 1608.7,268.8 1611.3,268.9 1614.0,268.9 1616.6,269.0 1619.2,269.1 1621.9,269.1 1624.5,269.1 1627.1,269.2 1629.8,269.2 1632.4,269.3 1635.0,269.4 1637.7,269.4 1640.3,269.4 1642.9,269.5 1645.6,269.5 1648.2,269.5 1650.8,269.5 1653.5,269.5 1656.1,269.5 1658.7,269.5 1661.4,269.5 1664.0,269.5 1666.6,269.5 1669.3,269.5 1671.9,269.5 1674.5,269.5 1677.2,269.5 1679.8,269.5 1682.4,269.5 1685.1,269.5 1687.7,269.5 1690.3,269.5 1693.0,269.5 1695.6,269.5 1698.2,269.5 1700.9,269.5 1703.5,269.5 1706.1,269.6 1708.8,269.7 1711.4,269.7 1714.0,269.8 1716.7,269.8 1719.3,269.9 1721.9,269.9 1724.6,270.0 1727.2,270.0 1729.8,270.1 1732.5,270.1 1735.1,270.2 1737.7,270.2 1740.4,270.2 1743.0,270.2 1745.6,270.2 1748.3,270.2 1750.9,270.2 1753.5,270.2 1756.2,270.2 1758.8,270.2 1761.4,270.2 1764.1,270.2 1766.7,270.2 1769.3,270.2 1772.0,270.2 1774.6,270.2 1777.2,270.2 1779.9,270.2 1782.5,270.2 1785.1,270.2 1787.8,270.2" fill="none" stroke="#8000ff" stroke-width="4.1" stroke-linejoin="round"/>
<polygon points="243.2,1217.6 213.2,1200.4 213.2,1234.8" fill="#8000ff"/>
<polygon points="290.6,1148.1 260.6,1130.9 260.6,1165.3" fill="#8000ff"/>
<polygon points="338.0,1166.2 308.0,1149.0 308.0,1183.4" fill="#8000ff"/>
<polygon points="385.4,1177.1 355.4,1159.9 355.4,1194.3" fill="#8000ff"/>
<polygon points="432.8,1174.9 402.8,1157.7 402.8,1192.1" fill="#8000ff"/>
<polygon points="480.2,1116.3 450.2,1099.1 450.2,1133.5" fill="#8000ff"/>
<polygon points="527.6,975.9 497.6,958.7 497.6,993.1" fill="#8000ff"/>
<polygon points="575.0,766.7 545.0,749.5 545.0,783.9" fill="#8000ff"/>
<polygon points="622.4,635.0 592.4,617.8 592.4,652.2" fill="#8000ff"/>
<polygon points="669.8,536.5 639.8,519.3 639.8,553.7" fill="#8000ff"/>
<polygon points="717.2,453.3 687.2,436.1 687.2,470.5" fill="#8000ff"/>
<polygon points="764.6,396.8 734.6,379.6 734.6,414.0" fill="#8000ff"/>
<polygon points="812.0,356.3 782.0,339.1 782.0,373.5" fill="#8000ff"/>
<polygon points="859.4,329.5 829.4,312.3 829.4,346.7" fill="#8000ff"/>
<polygon points="906.8,307.1 876.8,289.9 876.8,324.3" fill="#8000ff"/>
<polygon points="954.2,293.3 924.2,276.1 924.2,310.5" fill="#8000ff"/>
<polygon points="1001.6,282.5 971.6,265.3 971.6,299.7" fill="#8000ff"/>
<polygon points="1049.0,275.2 1019.0,258.0 1019.0,292.4" fill="#8000ff"/>
<polygon points="1096.4,270.9 1066.4,253.7 1066.4,288.1" fill="#8000ff"/>
<polygon points="1143.8,267.3 1113.8,250.1 1113.8,284.5" fill="#8000ff"/>
<polygon points="1191.2,265.1 1161.2,247.9 1161.2,282.3" fill="#8000ff"/>
<polygon points="1238.6,264.4 1208.6,247.2 1208.6,281.6" fill="#8000ff"/>
<polygon points="1286.0,264.4 1256.0,247.2 1256.0,281.6" fill="#8000ff"/>
<polygon points="1333.4,265.8 1303.4,248.6 1303.4,283.0" fill="#8000ff"/>
<polygon points="1380.8,266.6 1350.8,249.4 1350.8,283.8" fill="#8000ff"/>
<polygon points="1428.2,267.3 1398.2,250.1 1398.2,284.5" fill="#8000ff"/>
<polygon points="1475.6,268.0 1445.6,250.8 1445.6,285.2" fill="#8000ff"/>
<polygon points="1523.0,268.0 1493.0,250.8 1493.0,285.2" fill="#8000ff"/>
<polygon points="1570.4,268.7 1540.4,251.5 1540.4,285.9" fill="#8000ff"/>
<polygon points="1617.8,268.7 1587.8,251.5 1587.8,285.9" fill="#8000ff"/>
<polygon points="1665.2,269.5 1635.2,252.3 1635.2,286.7" fill="#8000ff"/>
<polygon points="1712.6,269.5 1682.6,252.3 1682.6,286.7" fill="#8000ff"/>
<polygon points="1760.0,270.2 1730.0,253.0 1730.0,287.4" fill="#8000ff"/>
<polygon points="1807.4,270.2 1777.4,253.0 1777.4,287.4" fill="#8000ff"/>
</g>
</g>
<g stroke="#000" stroke-width="5.0" fill="none" stroke-linecap="butt">
<rect x="218.3" y="66.8" width="1580.0" height="1302.8"/>
<line x1="191.8" y1="1369.6" x2="218.3" y2="1369.6"/>
<line x1="191.8" y1="1224.8" x2="218.3" y2="1224.8"/>
<line x1="191.8" y1="1080.1" x2="218.3" y2="1080.1"/>
<line x1="191.8" y1="935.3" x2="218.3" y2="935.3"/>
<line x1="191.8" y1="790.6" x2="218.3" y2="790.6"/>
<line x1="191.8" y1="645.8" x2="218.3" y2="645.8"/>
<line x1="191.8" y1="501.1" x2="218.3" y2="501.1"/>
<line x1="191.8" y1="356.3" x2="218.3" y2="356.3"/>
<line x1="191.8" y1="211.6" x2="218.3" y2="211.6"/>
<line x1="191.8" y1="66.8" x2="218.3" y2="66.8"/>
<line x1="218.3" y1="1369.6" x2="218.3" y2="1396.6"/>
<line x1="534.3" y1="1369.6" x2="534.3" y2="1396.6"/>
<line x1="850.3" y1="1369.6" x2="850.3" y2="1396.6"/>
<line x1="1166.3" y1="1369.6" x2="1166.3" y2="1396.6"/>
<line x1="1482.3" y1="1369.6" x2="1482.3" y2="1396.6"/>
<line x1="1798.3" y1="1369.6" x2="1798.3" y2="1396.6"/>
</g>
<g stroke="#000" stroke-width="4.5" fill="none">
<line x1="376.3" y1="1369.6" x2="376.3" y2="1383.6"/>
<line x1="692.3" y1="1369.6" x2="692.3" y2="1383.6"/>
<line x1="1008.3" y1="1369.6" x2="1008.3" y2="1383.6"/>
<line x1="1324.3" y1="1369.6" x2="1324.3" y2="1383.6"/>
<line x1="1640.3" y1="1369.6" x2="1640.3" y2="1383.6"/>
</g>
<text class="tk" x="175.5" y="1383.3" text-anchor="end">0</text>
<text class="tk" x="175.5" y="1238.5" text-anchor="end">2</text>
<text class="tk" x="175.5" y="1093.8" text-anchor="end">4</text>
<text class="tk" x="175.5" y="949.0" text-anchor="end">6</text>
<text class="tk" x="175.5" y="804.3" text-anchor="end">8</text>
<text class="tk" x="175.5" y="659.5" text-anchor="end">10</text>
<text class="tk" x="175.5" y="514.8" text-anchor="end">12</text>
<text class="tk" x="175.5" y="370.0" text-anchor="end">14</text>
<text class="tk" x="175.5" y="225.3" text-anchor="end">16</text>
<text class="tk" x="175.5" y="80.5" text-anchor="end">18</text>
<text class="tk" x="218.3" y="1453.7" text-anchor="middle">0</text>
<text class="tk" x="534.3" y="1453.7" text-anchor="middle">1</text>
<text class="tk" x="850.3" y="1453.7" text-anchor="middle">2</text>
<text class="tk" x="1166.3" y="1453.7" text-anchor="middle">3</text>
<text class="tk" x="1482.3" y="1453.7" text-anchor="middle">4</text>
<text class="tk" x="1798.3" y="1453.7" text-anchor="middle">5</text>
<text x="1008.4" y="1563.8" text-anchor="middle" font-size="66.3">Time (min)</text>
<text transform="translate(88.3,717.6) rotate(-90)" text-anchor="middle" font-size="68.2">Torque S'(lb-In)</text>
<line x1="1281.8" y1="903.2" x2="1330.5" y2="903.2" stroke="#000000" stroke-width="4.1"/>
<line x1="1360.9" y1="903.2" x2="1406.9" y2="903.2" stroke="#000000" stroke-width="4.1"/>
<rect x="1333.4" y="891.1" width="24.6" height="24.2" fill="#000000"/>
<text class="lg" x="1420.6" y="920.4">Control (BHT)</text>
<line x1="1281.8" y1="966.6" x2="1330.5" y2="966.6" stroke="#ff0000" stroke-width="4.1"/>
<line x1="1360.9" y1="966.6" x2="1406.9" y2="966.6" stroke="#ff0000" stroke-width="4.1"/>
<ellipse cx="1345.7" cy="966.6" rx="13" ry="14" fill="#ff0000"/>
<text class="lg" x="1420.6" y="983.8">Lignin 0 phr</text>
<line x1="1281.8" y1="1030.4" x2="1330.5" y2="1030.4" stroke="#0000ff" stroke-width="4.1"/>
<line x1="1360.9" y1="1030.4" x2="1406.9" y2="1030.4" stroke="#0000ff" stroke-width="4.1"/>
<polygon points="1345.7,1010.8 1329.4,1040.8 1362.0,1040.8" fill="#0000ff"/>
<text class="lg" x="1420.6" y="1047.6">Lignin 1.5 phr</text>
<line x1="1281.8" y1="1094.2" x2="1330.5" y2="1094.2" stroke="#ff00ff" stroke-width="4.1"/>
<line x1="1360.9" y1="1094.2" x2="1406.9" y2="1094.2" stroke="#ff00ff" stroke-width="4.1"/>
<polygon points="1345.7,1113.8 1329.4,1083.8 1362.0,1083.8" fill="#ff00ff"/>
<text class="lg" x="1420.6" y="1111.4">Lignin 5 phr</text>
<line x1="1281.8" y1="1158.1" x2="1330.5" y2="1158.1" stroke="#008000" stroke-width="4.1"/>
<line x1="1360.9" y1="1158.1" x2="1406.9" y2="1158.1" stroke="#008000" stroke-width="4.1"/>
<polygon points="1345.7,1140.1 1361.3,1158.1 1345.7,1176.1 1330.1,1158.1" fill="#008000"/>
<text class="lg" x="1420.6" y="1175.3">Lignin 10 phr</text>
<line x1="1281.8" y1="1222.2" x2="1330.7" y2="1222.2" stroke="#000080" stroke-width="4.1"/>
<line x1="1360.9" y1="1222.2" x2="1406.9" y2="1222.2" stroke="#000080" stroke-width="4.1"/>
<polygon points="1326.1,1222.2 1356.1,1205.0 1356.1,1239.4" fill="#000080"/>
<text class="lg" x="1420.6" y="1239.4">Lignin 15 phr</text>
<line x1="1281.8" y1="1285.3" x2="1330.5" y2="1285.3" stroke="#8000ff" stroke-width="4.1"/>
<line x1="1360.7" y1="1285.3" x2="1406.9" y2="1285.3" stroke="#8000ff" stroke-width="4.1"/>
<polygon points="1365.3,1285.3 1335.3,1268.1 1335.3,1302.5" fill="#8000ff"/>
<text class="lg" x="1420.6" y="1302.5">Lignin 20 phr</text>
</svg></body></html>
